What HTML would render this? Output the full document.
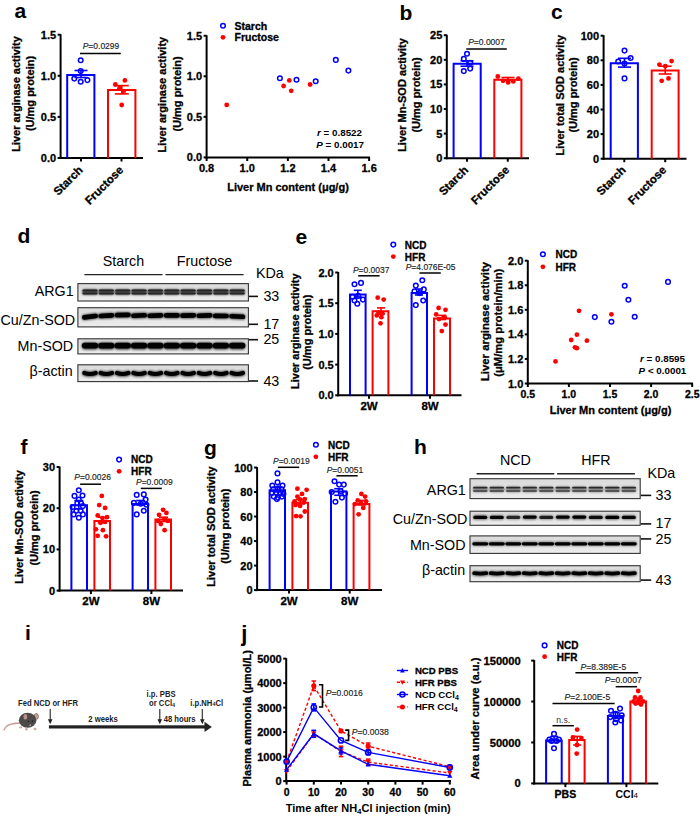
<!DOCTYPE html><html><head><meta charset="utf-8"><style>html,body{margin:0;padding:0;background:#fff;width:700px;height:818px;overflow:hidden;position:relative}</style></head><body><svg width="700" height="818" viewBox="0 0 700 818" style="position:absolute;left:0;top:0">
<g font-family='"Liberation Sans", sans-serif'>
<rect x="0" y="0" width="700" height="818" fill="#fff"/>
<text x="14.50" y="18.10" font-size="21" font-weight="bold" fill="#000">a</text>
<text x="399.50" y="19.50" font-size="21" font-weight="bold" fill="#000">b</text>
<text x="551.00" y="19.00" font-size="21" font-weight="bold" fill="#000">c</text>
<text x="17.40" y="242.70" font-size="21" font-weight="bold" fill="#000">d</text>
<text x="295.50" y="243.50" font-size="21" font-weight="bold" fill="#000">e</text>
<text x="20.50" y="454.00" font-size="21" font-weight="bold" fill="#000">f</text>
<text x="204.00" y="454.50" font-size="21" font-weight="bold" fill="#000">g</text>
<text x="414.00" y="454.00" font-size="21" font-weight="bold" fill="#000">h</text>
<text x="25.00" y="639.80" font-size="21" font-weight="bold" fill="#000">i</text>
<text x="241.30" y="640.50" font-size="22" font-weight="bold" fill="#000">j</text>
<line x1="60.60" y1="34.20" x2="60.60" y2="159.00" stroke="#000" stroke-width="2" />
<line x1="57.60" y1="158.00" x2="60.60" y2="158.00" stroke="#000" stroke-width="2" />
<text x="56.10" y="162.01" font-size="11" font-weight="bold" text-anchor="end" fill="#000" stroke="#000" stroke-width="0.3" >0.0</text>
<line x1="57.60" y1="116.90" x2="60.60" y2="116.90" stroke="#000" stroke-width="2" />
<text x="56.10" y="120.92" font-size="11" font-weight="bold" text-anchor="end" fill="#000" stroke="#000" stroke-width="0.3" >0.5</text>
<line x1="57.60" y1="75.80" x2="60.60" y2="75.80" stroke="#000" stroke-width="2" />
<text x="56.10" y="79.81" font-size="11" font-weight="bold" text-anchor="end" fill="#000" stroke="#000" stroke-width="0.3" >1.0</text>
<line x1="57.60" y1="34.70" x2="60.60" y2="34.70" stroke="#000" stroke-width="2" />
<text x="56.10" y="38.71" font-size="11" font-weight="bold" text-anchor="end" fill="#000" stroke="#000" stroke-width="0.3" >1.5</text>
<line x1="59.60" y1="158.00" x2="143.00" y2="158.00" stroke="#000" stroke-width="2" />
<line x1="81.00" y1="158.00" x2="81.00" y2="161.50" stroke="#000" stroke-width="2" />
<line x1="121.50" y1="158.00" x2="121.50" y2="161.50" stroke="#000" stroke-width="2" />
<path d="M67.20 158.00 V75.00 H94.40 V158.00" fill="none" stroke="#0000ff" stroke-width="2"/>
<path d="M108.00 158.00 V90.00 H135.40 V158.00" fill="none" stroke="#ff0000" stroke-width="2"/>
<line x1="81.00" y1="70.50" x2="81.00" y2="77.50" stroke="#0000ff" stroke-width="1.6" />
<line x1="74.50" y1="70.50" x2="87.50" y2="70.50" stroke="#0000ff" stroke-width="1.6" />
<line x1="74.50" y1="77.50" x2="87.50" y2="77.50" stroke="#0000ff" stroke-width="1.6" />
<line x1="121.80" y1="85.60" x2="121.80" y2="93.90" stroke="#ff0000" stroke-width="1.6" />
<line x1="114.80" y1="85.60" x2="128.80" y2="85.60" stroke="#ff0000" stroke-width="1.6" />
<line x1="114.80" y1="93.90" x2="128.80" y2="93.90" stroke="#ff0000" stroke-width="1.6" />
<circle cx="80.70" cy="60.20" r="2.3" fill="none" stroke="#0000ff" stroke-width="1.5"/>
<circle cx="74.30" cy="78.60" r="2.3" fill="none" stroke="#0000ff" stroke-width="1.5"/>
<circle cx="80.70" cy="81.70" r="2.3" fill="none" stroke="#0000ff" stroke-width="1.5"/>
<circle cx="87.40" cy="80.10" r="2.3" fill="none" stroke="#0000ff" stroke-width="1.5"/>
<circle cx="80.70" cy="71.10" r="2.3" fill="none" stroke="#0000ff" stroke-width="1.5"/>
<circle cx="124.90" cy="80.40" r="2.4" fill="#ff0000"/>
<circle cx="115.30" cy="84.50" r="2.4" fill="#ff0000"/>
<circle cx="121.70" cy="105.00" r="2.4" fill="#ff0000"/>
<circle cx="119.50" cy="88.20" r="2.4" fill="#ff0000"/>
<circle cx="123.50" cy="91.50" r="2.4" fill="#ff0000"/>
<line x1="80.00" y1="53.40" x2="120.80" y2="53.40" stroke="#000" stroke-width="1.5" />
<text x="101.00" y="49.30" font-size="8.5" text-anchor="middle" fill="#222" stroke="#222" stroke-width="0.15"><tspan font-style="italic">P</tspan>=0.0299</text>
<text x="83.50" y="170.80" font-size="11.5" font-weight="bold" text-anchor="end" fill="#000" transform="rotate(-45 83.50 170.80)" stroke="#000" stroke-width="0.3" >Starch</text>
<text x="124.00" y="170.80" font-size="11.5" font-weight="bold" text-anchor="end" fill="#000" transform="rotate(-45 124.00 170.80)" stroke="#000" stroke-width="0.3" >Fructose</text>
<text x="20.00" y="94.00" font-size="11" font-weight="bold" text-anchor="middle" fill="#000" transform="rotate(-90 20.00 94.00)" stroke="#000" stroke-width="0.3" >Liver arginase activity</text>
<text x="34.00" y="93.50" font-size="11" font-weight="bold" text-anchor="middle" fill="#000" transform="rotate(-90 34.00 93.50)" stroke="#000" stroke-width="0.3" >(U/mg protein)</text>
<line x1="206.60" y1="35.25" x2="206.60" y2="158.40" stroke="#000" stroke-width="2" />
<line x1="203.60" y1="157.40" x2="206.60" y2="157.40" stroke="#000" stroke-width="2" />
<text x="202.10" y="161.41" font-size="11" font-weight="bold" text-anchor="end" fill="#000" stroke="#000" stroke-width="0.3" >0.0</text>
<line x1="203.60" y1="116.85" x2="206.60" y2="116.85" stroke="#000" stroke-width="2" />
<text x="202.10" y="120.87" font-size="11" font-weight="bold" text-anchor="end" fill="#000" stroke="#000" stroke-width="0.3" >0.5</text>
<line x1="203.60" y1="76.30" x2="206.60" y2="76.30" stroke="#000" stroke-width="2" />
<text x="202.10" y="80.32" font-size="11" font-weight="bold" text-anchor="end" fill="#000" stroke="#000" stroke-width="0.3" >1.0</text>
<line x1="203.60" y1="35.75" x2="206.60" y2="35.75" stroke="#000" stroke-width="2" />
<text x="202.10" y="39.77" font-size="11" font-weight="bold" text-anchor="end" fill="#000" stroke="#000" stroke-width="0.3" >1.5</text>
<line x1="205.60" y1="157.40" x2="370.00" y2="157.40" stroke="#000" stroke-width="2" />
<line x1="206.60" y1="157.40" x2="206.60" y2="161.00" stroke="#000" stroke-width="2" />
<text x="206.60" y="172.30" font-size="11" font-weight="bold" text-anchor="middle" fill="#000" stroke="#000" stroke-width="0.3" >0.8</text>
<line x1="247.23" y1="157.40" x2="247.23" y2="161.00" stroke="#000" stroke-width="2" />
<text x="247.23" y="172.30" font-size="11" font-weight="bold" text-anchor="middle" fill="#000" stroke="#000" stroke-width="0.3" >1.0</text>
<line x1="287.86" y1="157.40" x2="287.86" y2="161.00" stroke="#000" stroke-width="2" />
<text x="287.86" y="172.30" font-size="11" font-weight="bold" text-anchor="middle" fill="#000" stroke="#000" stroke-width="0.3" >1.2</text>
<line x1="328.49" y1="157.40" x2="328.49" y2="161.00" stroke="#000" stroke-width="2" />
<text x="328.49" y="172.30" font-size="11" font-weight="bold" text-anchor="middle" fill="#000" stroke="#000" stroke-width="0.3" >1.4</text>
<line x1="369.12" y1="157.40" x2="369.12" y2="161.00" stroke="#000" stroke-width="2" />
<text x="369.12" y="172.30" font-size="11" font-weight="bold" text-anchor="middle" fill="#000" stroke="#000" stroke-width="0.3" >1.6</text>
<circle cx="279.90" cy="78.20" r="2.3" fill="none" stroke="#0000ff" stroke-width="1.5"/>
<circle cx="296.50" cy="79.70" r="2.3" fill="none" stroke="#0000ff" stroke-width="1.5"/>
<circle cx="315.70" cy="81.30" r="2.3" fill="none" stroke="#0000ff" stroke-width="1.5"/>
<circle cx="335.80" cy="59.90" r="2.3" fill="none" stroke="#0000ff" stroke-width="1.5"/>
<circle cx="348.40" cy="70.60" r="2.3" fill="none" stroke="#0000ff" stroke-width="1.5"/>
<circle cx="226.70" cy="104.90" r="2.4" fill="#ff0000"/>
<circle cx="283.60" cy="86.00" r="2.4" fill="#ff0000"/>
<circle cx="289.30" cy="80.40" r="2.4" fill="#ff0000"/>
<circle cx="291.20" cy="90.80" r="2.4" fill="#ff0000"/>
<circle cx="310.10" cy="84.50" r="2.4" fill="#ff0000"/>
<circle cx="223.00" cy="25.70" r="2.3" fill="none" stroke="#0000ff" stroke-width="1.5"/>
<text x="234.50" y="29.50" font-size="10.5" font-weight="bold" text-anchor="start" fill="#000" stroke="#000" stroke-width="0.3" >Starch</text>
<circle cx="223.00" cy="37.30" r="2.4" fill="#ff0000"/>
<text x="234.50" y="41.20" font-size="10.5" font-weight="bold" text-anchor="start" fill="#000" stroke="#000" stroke-width="0.3" >Fructose</text>
<text x="362" y="136" font-size="9.8" font-weight="bold" text-anchor="end"><tspan font-style="italic">r</tspan> = 0.8522</text>
<text x="364" y="148" font-size="9.8" font-weight="bold" text-anchor="end"><tspan font-style="italic">P</tspan> = 0.0017</text>
<text x="288.00" y="191.00" font-size="11" font-weight="bold" text-anchor="middle" fill="#000" stroke="#000" stroke-width="0.3" >Liver Mn content (μg/g)</text>
<text x="165.80" y="94.60" font-size="11" font-weight="bold" text-anchor="middle" fill="#000" transform="rotate(-90 165.80 94.60)" stroke="#000" stroke-width="0.3" >Liver arginase activity</text>
<text x="180.50" y="94.00" font-size="11" font-weight="bold" text-anchor="middle" fill="#000" transform="rotate(-90 180.50 94.00)" stroke="#000" stroke-width="0.3" >(U/mg protein)</text>
<line x1="446.80" y1="34.70" x2="446.80" y2="159.20" stroke="#000" stroke-width="2" />
<line x1="443.80" y1="158.20" x2="446.80" y2="158.20" stroke="#000" stroke-width="2" />
<text x="442.30" y="162.21" font-size="11" font-weight="bold" text-anchor="end" fill="#000" stroke="#000" stroke-width="0.3" >0</text>
<line x1="443.80" y1="133.60" x2="446.80" y2="133.60" stroke="#000" stroke-width="2" />
<text x="442.30" y="137.61" font-size="11" font-weight="bold" text-anchor="end" fill="#000" stroke="#000" stroke-width="0.3" >5</text>
<line x1="443.80" y1="109.00" x2="446.80" y2="109.00" stroke="#000" stroke-width="2" />
<text x="442.30" y="113.01" font-size="11" font-weight="bold" text-anchor="end" fill="#000" stroke="#000" stroke-width="0.3" >10</text>
<line x1="443.80" y1="84.40" x2="446.80" y2="84.40" stroke="#000" stroke-width="2" />
<text x="442.30" y="88.41" font-size="11" font-weight="bold" text-anchor="end" fill="#000" stroke="#000" stroke-width="0.3" >15</text>
<line x1="443.80" y1="59.80" x2="446.80" y2="59.80" stroke="#000" stroke-width="2" />
<text x="442.30" y="63.81" font-size="11" font-weight="bold" text-anchor="end" fill="#000" stroke="#000" stroke-width="0.3" >20</text>
<line x1="443.80" y1="35.20" x2="446.80" y2="35.20" stroke="#000" stroke-width="2" />
<text x="442.30" y="39.21" font-size="11" font-weight="bold" text-anchor="end" fill="#000" stroke="#000" stroke-width="0.3" >25</text>
<line x1="445.80" y1="158.20" x2="529.00" y2="158.20" stroke="#000" stroke-width="2" />
<line x1="467.00" y1="158.20" x2="467.00" y2="161.70" stroke="#000" stroke-width="2" />
<line x1="507.80" y1="158.20" x2="507.80" y2="161.70" stroke="#000" stroke-width="2" />
<path d="M453.60 158.20 V63.80 H480.70 V158.20" fill="none" stroke="#0000ff" stroke-width="2"/>
<path d="M494.30 158.20 V79.80 H521.40 V158.20" fill="none" stroke="#ff0000" stroke-width="2"/>
<line x1="467.00" y1="60.80" x2="467.00" y2="66.20" stroke="#0000ff" stroke-width="1.6" />
<line x1="460.50" y1="60.80" x2="473.50" y2="60.80" stroke="#0000ff" stroke-width="1.6" />
<line x1="460.50" y1="66.20" x2="473.50" y2="66.20" stroke="#0000ff" stroke-width="1.6" />
<line x1="508.00" y1="77.50" x2="508.00" y2="80.50" stroke="#ff0000" stroke-width="1.6" />
<line x1="501.50" y1="77.50" x2="514.50" y2="77.50" stroke="#ff0000" stroke-width="1.6" />
<line x1="501.50" y1="80.50" x2="514.50" y2="80.50" stroke="#ff0000" stroke-width="1.6" />
<circle cx="467.00" cy="53.80" r="2.3" fill="none" stroke="#0000ff" stroke-width="1.5"/>
<circle cx="463.80" cy="58.90" r="2.3" fill="none" stroke="#0000ff" stroke-width="1.5"/>
<circle cx="470.20" cy="62.80" r="2.3" fill="none" stroke="#0000ff" stroke-width="1.5"/>
<circle cx="463.80" cy="71.10" r="2.3" fill="none" stroke="#0000ff" stroke-width="1.5"/>
<circle cx="470.20" cy="68.60" r="2.3" fill="none" stroke="#0000ff" stroke-width="1.5"/>
<circle cx="497.80" cy="76.50" r="2.4" fill="#ff0000"/>
<circle cx="503.00" cy="80.80" r="2.4" fill="#ff0000"/>
<circle cx="508.10" cy="82.40" r="2.4" fill="#ff0000"/>
<circle cx="513.30" cy="81.40" r="2.4" fill="#ff0000"/>
<circle cx="518.40" cy="78.60" r="2.4" fill="#ff0000"/>
<line x1="466.30" y1="49.00" x2="506.80" y2="49.00" stroke="#000" stroke-width="1.5" />
<text x="486.50" y="45.40" font-size="8.5" text-anchor="middle" fill="#222" stroke="#222" stroke-width="0.15"><tspan font-style="italic">P</tspan>=0.0007</text>
<text x="469.00" y="170.80" font-size="11.5" font-weight="bold" text-anchor="end" fill="#000" transform="rotate(-45 469.00 170.80)" stroke="#000" stroke-width="0.3" >Starch</text>
<text x="510.00" y="170.80" font-size="11.5" font-weight="bold" text-anchor="end" fill="#000" transform="rotate(-45 510.00 170.80)" stroke="#000" stroke-width="0.3" >Fructose</text>
<text x="406.00" y="95.00" font-size="11" font-weight="bold" text-anchor="middle" fill="#000" transform="rotate(-90 406.00 95.00)" stroke="#000" stroke-width="0.3" >Liver Mn-SOD activity</text>
<text x="420.00" y="95.00" font-size="11" font-weight="bold" text-anchor="middle" fill="#000" transform="rotate(-90 420.00 95.00)" stroke="#000" stroke-width="0.3" >(U/mg protein)</text>
<line x1="603.60" y1="35.20" x2="603.60" y2="159.70" stroke="#000" stroke-width="2" />
<line x1="600.60" y1="158.70" x2="603.60" y2="158.70" stroke="#000" stroke-width="2" />
<text x="599.10" y="162.71" font-size="11" font-weight="bold" text-anchor="end" fill="#000" stroke="#000" stroke-width="0.3" >0</text>
<line x1="600.60" y1="134.10" x2="603.60" y2="134.10" stroke="#000" stroke-width="2" />
<text x="599.10" y="138.11" font-size="11" font-weight="bold" text-anchor="end" fill="#000" stroke="#000" stroke-width="0.3" >20</text>
<line x1="600.60" y1="109.50" x2="603.60" y2="109.50" stroke="#000" stroke-width="2" />
<text x="599.10" y="113.51" font-size="11" font-weight="bold" text-anchor="end" fill="#000" stroke="#000" stroke-width="0.3" >40</text>
<line x1="600.60" y1="84.90" x2="603.60" y2="84.90" stroke="#000" stroke-width="2" />
<text x="599.10" y="88.91" font-size="11" font-weight="bold" text-anchor="end" fill="#000" stroke="#000" stroke-width="0.3" >60</text>
<line x1="600.60" y1="60.30" x2="603.60" y2="60.30" stroke="#000" stroke-width="2" />
<text x="599.10" y="64.31" font-size="11" font-weight="bold" text-anchor="end" fill="#000" stroke="#000" stroke-width="0.3" >80</text>
<line x1="600.60" y1="35.70" x2="603.60" y2="35.70" stroke="#000" stroke-width="2" />
<text x="599.10" y="39.71" font-size="11" font-weight="bold" text-anchor="end" fill="#000" stroke="#000" stroke-width="0.3" >100</text>
<line x1="602.60" y1="158.70" x2="686.50" y2="158.70" stroke="#000" stroke-width="2" />
<line x1="624.30" y1="158.70" x2="624.30" y2="162.20" stroke="#000" stroke-width="2" />
<line x1="665.20" y1="158.70" x2="665.20" y2="162.20" stroke="#000" stroke-width="2" />
<path d="M610.70 158.70 V63.20 H637.90 V158.70" fill="none" stroke="#0000ff" stroke-width="2"/>
<path d="M651.70 158.70 V70.50 H678.60 V158.70" fill="none" stroke="#ff0000" stroke-width="2"/>
<line x1="624.50" y1="58.30" x2="624.50" y2="67.10" stroke="#0000ff" stroke-width="1.6" />
<line x1="618.00" y1="58.30" x2="631.00" y2="58.30" stroke="#0000ff" stroke-width="1.6" />
<line x1="618.00" y1="67.10" x2="631.00" y2="67.10" stroke="#0000ff" stroke-width="1.6" />
<line x1="665.20" y1="66.20" x2="665.20" y2="74.00" stroke="#ff0000" stroke-width="1.6" />
<line x1="658.70" y1="66.20" x2="671.70" y2="66.20" stroke="#ff0000" stroke-width="1.6" />
<line x1="658.70" y1="74.00" x2="671.70" y2="74.00" stroke="#ff0000" stroke-width="1.6" />
<circle cx="624.50" cy="50.60" r="2.3" fill="none" stroke="#0000ff" stroke-width="1.5"/>
<circle cx="630.60" cy="58.00" r="2.3" fill="none" stroke="#0000ff" stroke-width="1.5"/>
<circle cx="618.20" cy="61.50" r="2.3" fill="none" stroke="#0000ff" stroke-width="1.5"/>
<circle cx="624.50" cy="63.50" r="2.3" fill="none" stroke="#0000ff" stroke-width="1.5"/>
<circle cx="624.50" cy="78.40" r="2.3" fill="none" stroke="#0000ff" stroke-width="1.5"/>
<circle cx="671.60" cy="61.10" r="2.4" fill="#ff0000"/>
<circle cx="659.40" cy="64.60" r="2.4" fill="#ff0000"/>
<circle cx="665.30" cy="66.20" r="2.4" fill="#ff0000"/>
<circle cx="668.50" cy="78.40" r="2.4" fill="#ff0000"/>
<circle cx="661.70" cy="80.80" r="2.4" fill="#ff0000"/>
<text x="626.60" y="170.80" font-size="11.5" font-weight="bold" text-anchor="end" fill="#000" transform="rotate(-45 626.60 170.80)" stroke="#000" stroke-width="0.3" >Starch</text>
<text x="667.10" y="170.80" font-size="11.5" font-weight="bold" text-anchor="end" fill="#000" transform="rotate(-45 667.10 170.80)" stroke="#000" stroke-width="0.3" >Fructose</text>
<text x="563.70" y="95.20" font-size="11" font-weight="bold" text-anchor="middle" fill="#000" transform="rotate(-90 563.70 95.20)" stroke="#000" stroke-width="0.3" >Liver total SOD activity</text>
<text x="576.70" y="95.00" font-size="11" font-weight="bold" text-anchor="middle" fill="#000" transform="rotate(-90 576.70 95.00)" stroke="#000" stroke-width="0.3" >(U/mg protein)</text>
<defs><filter id="bl" filterUnits="userSpaceOnUse" x="0" y="0" width="700" height="818"><feGaussianBlur stdDeviation="0.9"/></filter><filter id="bl2" filterUnits="userSpaceOnUse" x="0" y="0" width="700" height="818"><feGaussianBlur stdDeviation="0.75"/></filter><linearGradient id="gbox" x1="0" y1="0" x2="0" y2="1"><stop offset="0" stop-color="#dadada"/><stop offset="1" stop-color="#ededed"/></linearGradient></defs>
<text x="123.50" y="265.80" font-size="14.3" font-weight="normal" text-anchor="middle" fill="#000" >Starch</text>
<text x="204.50" y="265.80" font-size="14.3" font-weight="normal" text-anchor="middle" fill="#000" >Fructose</text>
<line x1="84.40" y1="274.60" x2="162.50" y2="274.60" stroke="#222" stroke-width="1.4" />
<line x1="165.50" y1="274.60" x2="243.60" y2="274.60" stroke="#222" stroke-width="1.4" />
<text x="256.00" y="277.60" font-size="14.3" font-weight="normal" text-anchor="start" fill="#000" >KDa</text>
<rect x="77.90" y="283.60" width="170.50" height="17.40" fill="url(#gbox)" stroke="#333" stroke-width="1.1"/>
<g filter="url(#bl)"><path d="M85.10 292.00 Q90.00 292.00 94.90 292.00" stroke="#555" stroke-opacity="1" stroke-width="6.2" stroke-linecap="round" fill="none"/><path d="M101.46 292.00 Q106.36 292.00 111.26 292.00" stroke="#555" stroke-opacity="1" stroke-width="6.2" stroke-linecap="round" fill="none"/><path d="M117.82 292.00 Q122.72 292.00 127.62 292.00" stroke="#555" stroke-opacity="1" stroke-width="6.2" stroke-linecap="round" fill="none"/><path d="M134.18 292.00 Q139.08 292.00 143.98 292.00" stroke="#555" stroke-opacity="1" stroke-width="6.2" stroke-linecap="round" fill="none"/><path d="M150.54 292.00 Q155.44 292.00 160.34 292.00" stroke="#555" stroke-opacity="1" stroke-width="6.2" stroke-linecap="round" fill="none"/><path d="M166.90 292.00 Q171.80 292.00 176.70 292.00" stroke="#555" stroke-opacity="1" stroke-width="6.2" stroke-linecap="round" fill="none"/><path d="M183.26 292.00 Q188.16 292.00 193.06 292.00" stroke="#555" stroke-opacity="1" stroke-width="6.2" stroke-linecap="round" fill="none"/><path d="M199.62 292.00 Q204.52 292.00 209.42 292.00" stroke="#555" stroke-opacity="1" stroke-width="6.2" stroke-linecap="round" fill="none"/><path d="M215.98 292.00 Q220.88 292.00 225.78 292.00" stroke="#555" stroke-opacity="1" stroke-width="6.2" stroke-linecap="round" fill="none"/><path d="M232.34 292.00 Q237.24 292.00 242.14 292.00" stroke="#555" stroke-opacity="1" stroke-width="6.2" stroke-linecap="round" fill="none"/></g>
<g filter="url(#bl2)"><path d="M83.40 290.50 Q90.00 290.50 96.60 290.50" stroke="#222" stroke-opacity="1" stroke-width="2.0" stroke-linecap="round" fill="none"/><path d="M99.76 290.50 Q106.36 290.50 112.96 290.50" stroke="#222" stroke-opacity="1" stroke-width="2.0" stroke-linecap="round" fill="none"/><path d="M116.12 290.50 Q122.72 290.50 129.32 290.50" stroke="#222" stroke-opacity="1" stroke-width="2.0" stroke-linecap="round" fill="none"/><path d="M132.48 290.50 Q139.08 290.50 145.68 290.50" stroke="#222" stroke-opacity="1" stroke-width="2.0" stroke-linecap="round" fill="none"/><path d="M148.84 290.50 Q155.44 290.50 162.04 290.50" stroke="#222" stroke-opacity="1" stroke-width="2.0" stroke-linecap="round" fill="none"/><path d="M165.20 290.50 Q171.80 290.50 178.40 290.50" stroke="#222" stroke-opacity="1" stroke-width="2.0" stroke-linecap="round" fill="none"/><path d="M181.56 290.50 Q188.16 290.50 194.76 290.50" stroke="#222" stroke-opacity="1" stroke-width="2.0" stroke-linecap="round" fill="none"/><path d="M197.92 290.50 Q204.52 290.50 211.12 290.50" stroke="#222" stroke-opacity="1" stroke-width="2.0" stroke-linecap="round" fill="none"/><path d="M214.28 290.50 Q220.88 290.50 227.48 290.50" stroke="#222" stroke-opacity="1" stroke-width="2.0" stroke-linecap="round" fill="none"/><path d="M230.64 290.50 Q237.24 290.50 243.84 290.50" stroke="#222" stroke-opacity="1" stroke-width="2.0" stroke-linecap="round" fill="none"/></g>
<g filter="url(#bl2)"><path d="M83.40 293.60 Q90.00 293.60 96.60 293.60" stroke="#262626" stroke-opacity="1" stroke-width="2.0" stroke-linecap="round" fill="none"/><path d="M99.76 293.60 Q106.36 293.60 112.96 293.60" stroke="#262626" stroke-opacity="1" stroke-width="2.0" stroke-linecap="round" fill="none"/><path d="M116.12 293.60 Q122.72 293.60 129.32 293.60" stroke="#262626" stroke-opacity="1" stroke-width="2.0" stroke-linecap="round" fill="none"/><path d="M132.48 293.60 Q139.08 293.60 145.68 293.60" stroke="#262626" stroke-opacity="1" stroke-width="2.0" stroke-linecap="round" fill="none"/><path d="M148.84 293.60 Q155.44 293.60 162.04 293.60" stroke="#262626" stroke-opacity="1" stroke-width="2.0" stroke-linecap="round" fill="none"/><path d="M165.20 293.60 Q171.80 293.60 178.40 293.60" stroke="#262626" stroke-opacity="1" stroke-width="2.0" stroke-linecap="round" fill="none"/><path d="M181.56 293.60 Q188.16 293.60 194.76 293.60" stroke="#262626" stroke-opacity="1" stroke-width="2.0" stroke-linecap="round" fill="none"/><path d="M197.92 293.60 Q204.52 293.60 211.12 293.60" stroke="#262626" stroke-opacity="1" stroke-width="2.0" stroke-linecap="round" fill="none"/><path d="M214.28 293.60 Q220.88 293.60 227.48 293.60" stroke="#262626" stroke-opacity="1" stroke-width="2.0" stroke-linecap="round" fill="none"/><path d="M230.64 293.60 Q237.24 293.60 243.84 293.60" stroke="#262626" stroke-opacity="1" stroke-width="2.0" stroke-linecap="round" fill="none"/></g>
<rect x="77.90" y="307.70" width="170.50" height="19.20" fill="url(#gbox)" stroke="#333" stroke-width="1.1"/>
<g filter="url(#bl)"><path d="M84.70 317.40 Q90.00 316.70 95.30 316.00" stroke="#444" stroke-opacity="1" stroke-width="6.0" stroke-linecap="round" fill="none"/><path d="M101.06 316.00 Q106.36 315.70 111.66 315.40" stroke="#444" stroke-opacity="1" stroke-width="6.0" stroke-linecap="round" fill="none"/><path d="M117.42 315.10 Q122.72 315.00 128.02 314.90" stroke="#444" stroke-opacity="1" stroke-width="6.0" stroke-linecap="round" fill="none"/><path d="M133.78 315.70 Q139.08 315.50 144.38 315.30" stroke="#444" stroke-opacity="1" stroke-width="6.0" stroke-linecap="round" fill="none"/><path d="M150.14 315.70 Q155.44 315.55 160.74 315.40" stroke="#444" stroke-opacity="1" stroke-width="6.0" stroke-linecap="round" fill="none"/><path d="M166.50 315.40 Q171.80 315.40 177.10 315.40" stroke="#444" stroke-opacity="1" stroke-width="6.0" stroke-linecap="round" fill="none"/><path d="M182.86 315.60 Q188.16 315.50 193.46 315.40" stroke="#444" stroke-opacity="1" stroke-width="6.0" stroke-linecap="round" fill="none"/><path d="M199.22 315.70 Q204.52 315.55 209.82 315.40" stroke="#444" stroke-opacity="1" stroke-width="6.0" stroke-linecap="round" fill="none"/><path d="M215.58 315.90 Q220.88 315.95 226.18 316.00" stroke="#444" stroke-opacity="1" stroke-width="6.0" stroke-linecap="round" fill="none"/><path d="M231.94 316.20 Q237.24 316.50 242.54 316.80" stroke="#444" stroke-opacity="1" stroke-width="6.0" stroke-linecap="round" fill="none"/></g>
<g filter="url(#bl2)"><path d="M84.30 317.40 Q90.00 316.70 95.70 316.00" stroke="#000" stroke-opacity="1" stroke-width="4.6" stroke-linecap="round" fill="none"/><path d="M100.66 316.00 Q106.36 315.70 112.06 315.40" stroke="#000" stroke-opacity="1" stroke-width="4.6" stroke-linecap="round" fill="none"/><path d="M117.02 315.10 Q122.72 315.00 128.42 314.90" stroke="#000" stroke-opacity="1" stroke-width="4.6" stroke-linecap="round" fill="none"/><path d="M133.38 315.70 Q139.08 315.50 144.78 315.30" stroke="#000" stroke-opacity="1" stroke-width="4.6" stroke-linecap="round" fill="none"/><path d="M149.74 315.70 Q155.44 315.55 161.14 315.40" stroke="#000" stroke-opacity="1" stroke-width="4.6" stroke-linecap="round" fill="none"/><path d="M166.10 315.40 Q171.80 315.40 177.50 315.40" stroke="#000" stroke-opacity="1" stroke-width="4.6" stroke-linecap="round" fill="none"/><path d="M182.46 315.60 Q188.16 315.50 193.86 315.40" stroke="#000" stroke-opacity="1" stroke-width="4.6" stroke-linecap="round" fill="none"/><path d="M198.82 315.70 Q204.52 315.55 210.22 315.40" stroke="#000" stroke-opacity="1" stroke-width="4.6" stroke-linecap="round" fill="none"/><path d="M215.18 315.90 Q220.88 315.95 226.58 316.00" stroke="#000" stroke-opacity="1" stroke-width="4.6" stroke-linecap="round" fill="none"/><path d="M231.54 316.20 Q237.24 316.50 242.94 316.80" stroke="#000" stroke-opacity="1" stroke-width="4.6" stroke-linecap="round" fill="none"/></g>
<rect x="77.90" y="338.80" width="170.50" height="15.10" fill="url(#gbox)" stroke="#333" stroke-width="1.1"/>
<g filter="url(#bl)"><path d="M85.30 346.00 Q90.00 346.00 94.70 346.00" stroke="#444" stroke-opacity="1" stroke-width="7.4" stroke-linecap="round" fill="none"/><path d="M101.66 346.00 Q106.36 346.00 111.06 346.00" stroke="#444" stroke-opacity="1" stroke-width="7.4" stroke-linecap="round" fill="none"/><path d="M118.02 346.00 Q122.72 346.00 127.42 346.00" stroke="#444" stroke-opacity="1" stroke-width="7.4" stroke-linecap="round" fill="none"/><path d="M134.38 346.00 Q139.08 346.00 143.78 346.00" stroke="#444" stroke-opacity="1" stroke-width="7.4" stroke-linecap="round" fill="none"/><path d="M150.74 346.00 Q155.44 346.00 160.14 346.00" stroke="#444" stroke-opacity="1" stroke-width="7.4" stroke-linecap="round" fill="none"/><path d="M167.10 346.00 Q171.80 346.00 176.50 346.00" stroke="#444" stroke-opacity="1" stroke-width="7.4" stroke-linecap="round" fill="none"/><path d="M183.46 346.00 Q188.16 346.00 192.86 346.00" stroke="#444" stroke-opacity="1" stroke-width="7.4" stroke-linecap="round" fill="none"/><path d="M199.82 346.00 Q204.52 346.00 209.22 346.00" stroke="#444" stroke-opacity="1" stroke-width="7.4" stroke-linecap="round" fill="none"/><path d="M216.18 346.00 Q220.88 346.00 225.58 346.00" stroke="#444" stroke-opacity="1" stroke-width="7.4" stroke-linecap="round" fill="none"/><path d="M232.54 346.00 Q237.24 346.00 241.94 346.00" stroke="#444" stroke-opacity="1" stroke-width="7.4" stroke-linecap="round" fill="none"/></g>
<g filter="url(#bl2)"><path d="M84.70 345.60 Q90.00 345.60 95.30 345.60" stroke="#000" stroke-opacity="1" stroke-width="5.8" stroke-linecap="round" fill="none"/><path d="M101.06 345.60 Q106.36 345.60 111.66 345.60" stroke="#000" stroke-opacity="1" stroke-width="5.8" stroke-linecap="round" fill="none"/><path d="M117.42 345.60 Q122.72 345.60 128.02 345.60" stroke="#000" stroke-opacity="1" stroke-width="5.8" stroke-linecap="round" fill="none"/><path d="M133.78 345.60 Q139.08 345.60 144.38 345.60" stroke="#000" stroke-opacity="1" stroke-width="5.8" stroke-linecap="round" fill="none"/><path d="M150.14 345.60 Q155.44 345.60 160.74 345.60" stroke="#000" stroke-opacity="1" stroke-width="5.8" stroke-linecap="round" fill="none"/><path d="M166.50 345.60 Q171.80 345.60 177.10 345.60" stroke="#000" stroke-opacity="1" stroke-width="5.8" stroke-linecap="round" fill="none"/><path d="M182.86 345.60 Q188.16 345.60 193.46 345.60" stroke="#000" stroke-opacity="1" stroke-width="5.8" stroke-linecap="round" fill="none"/><path d="M199.22 345.60 Q204.52 345.60 209.82 345.60" stroke="#000" stroke-opacity="1" stroke-width="5.8" stroke-linecap="round" fill="none"/><path d="M215.58 345.60 Q220.88 345.60 226.18 345.60" stroke="#000" stroke-opacity="1" stroke-width="5.8" stroke-linecap="round" fill="none"/><path d="M231.94 345.60 Q237.24 345.60 242.54 345.60" stroke="#000" stroke-opacity="1" stroke-width="5.8" stroke-linecap="round" fill="none"/></g>
<rect x="77.90" y="364.80" width="170.50" height="16.80" fill="url(#gbox)" stroke="#333" stroke-width="1.1"/>
<g filter="url(#bl)"><path d="M84.90 373.20 Q90.00 375.20 95.10 373.20" stroke="#555" stroke-opacity="1" stroke-width="5.8" stroke-linecap="round" fill="none"/><path d="M101.26 373.20 Q106.36 375.20 111.46 373.20" stroke="#555" stroke-opacity="1" stroke-width="5.8" stroke-linecap="round" fill="none"/><path d="M117.62 373.20 Q122.72 375.20 127.82 373.20" stroke="#555" stroke-opacity="1" stroke-width="5.8" stroke-linecap="round" fill="none"/><path d="M133.98 373.20 Q139.08 375.20 144.18 373.20" stroke="#555" stroke-opacity="1" stroke-width="5.8" stroke-linecap="round" fill="none"/><path d="M150.34 373.20 Q155.44 375.20 160.54 373.20" stroke="#555" stroke-opacity="1" stroke-width="5.8" stroke-linecap="round" fill="none"/><path d="M166.70 373.20 Q171.80 375.20 176.90 373.20" stroke="#555" stroke-opacity="1" stroke-width="5.8" stroke-linecap="round" fill="none"/><path d="M183.06 373.20 Q188.16 375.20 193.26 373.20" stroke="#555" stroke-opacity="1" stroke-width="5.8" stroke-linecap="round" fill="none"/><path d="M199.42 373.20 Q204.52 375.20 209.62 373.20" stroke="#555" stroke-opacity="1" stroke-width="5.8" stroke-linecap="round" fill="none"/><path d="M215.78 373.20 Q220.88 375.20 225.98 373.20" stroke="#555" stroke-opacity="1" stroke-width="5.8" stroke-linecap="round" fill="none"/><path d="M232.14 373.20 Q237.24 375.20 242.34 373.20" stroke="#555" stroke-opacity="1" stroke-width="5.8" stroke-linecap="round" fill="none"/></g>
<g filter="url(#bl2)"><path d="M84.30 373.00 Q90.00 375.00 95.70 373.00" stroke="#000" stroke-opacity="1" stroke-width="4.2" stroke-linecap="round" fill="none"/><path d="M100.66 373.00 Q106.36 375.00 112.06 373.00" stroke="#000" stroke-opacity="1" stroke-width="4.2" stroke-linecap="round" fill="none"/><path d="M117.02 373.00 Q122.72 375.00 128.42 373.00" stroke="#000" stroke-opacity="1" stroke-width="4.2" stroke-linecap="round" fill="none"/><path d="M133.38 373.00 Q139.08 375.00 144.78 373.00" stroke="#000" stroke-opacity="1" stroke-width="4.2" stroke-linecap="round" fill="none"/><path d="M149.74 373.00 Q155.44 375.00 161.14 373.00" stroke="#000" stroke-opacity="1" stroke-width="4.2" stroke-linecap="round" fill="none"/><path d="M166.10 373.00 Q171.80 375.00 177.50 373.00" stroke="#000" stroke-opacity="1" stroke-width="4.2" stroke-linecap="round" fill="none"/><path d="M182.46 373.00 Q188.16 375.00 193.86 373.00" stroke="#000" stroke-opacity="1" stroke-width="4.2" stroke-linecap="round" fill="none"/><path d="M198.82 373.00 Q204.52 375.00 210.22 373.00" stroke="#000" stroke-opacity="1" stroke-width="4.2" stroke-linecap="round" fill="none"/><path d="M215.18 373.00 Q220.88 375.00 226.58 373.00" stroke="#000" stroke-opacity="1" stroke-width="4.2" stroke-linecap="round" fill="none"/><path d="M231.54 373.00 Q237.24 375.00 242.94 373.00" stroke="#000" stroke-opacity="1" stroke-width="4.2" stroke-linecap="round" fill="none"/></g>
<text x="73.70" y="295.50" font-size="14.3" font-weight="normal" text-anchor="end" fill="#000" >ARG1</text>
<text x="75.20" y="324.50" font-size="14.3" font-weight="normal" text-anchor="end" fill="#000" >Cu/Zn-SOD</text>
<text x="73.20" y="351.10" font-size="14.3" font-weight="normal" text-anchor="end" fill="#000" >Mn-SOD</text>
<text x="72.70" y="376.10" font-size="14.3" font-weight="normal" text-anchor="end" fill="#000" >β-actin</text>
<line x1="249.00" y1="296.40" x2="258.00" y2="296.40" stroke="#111" stroke-width="1.6" />
<text x="263.40" y="301.00" font-size="14.3" font-weight="normal" text-anchor="start" fill="#000" >33</text>
<line x1="249.00" y1="324.30" x2="258.00" y2="324.30" stroke="#111" stroke-width="1.6" />
<text x="263.40" y="328.50" font-size="14.3" font-weight="normal" text-anchor="start" fill="#000" >17</text>
<line x1="249.00" y1="339.70" x2="258.00" y2="339.70" stroke="#111" stroke-width="1.6" />
<text x="263.40" y="344.00" font-size="14.3" font-weight="normal" text-anchor="start" fill="#000" >25</text>
<line x1="249.00" y1="381.00" x2="258.00" y2="381.00" stroke="#111" stroke-width="1.6" />
<text x="263.40" y="385.50" font-size="14.3" font-weight="normal" text-anchor="start" fill="#000" >43</text>
<line x1="338.20" y1="272.00" x2="338.20" y2="396.30" stroke="#000" stroke-width="2" />
<line x1="335.20" y1="395.30" x2="338.20" y2="395.30" stroke="#000" stroke-width="2" />
<text x="333.70" y="399.31" font-size="11" font-weight="bold" text-anchor="end" fill="#000" stroke="#000" stroke-width="0.3" >0.0</text>
<line x1="335.20" y1="364.60" x2="338.20" y2="364.60" stroke="#000" stroke-width="2" />
<text x="333.70" y="368.62" font-size="11" font-weight="bold" text-anchor="end" fill="#000" stroke="#000" stroke-width="0.3" >0.5</text>
<line x1="335.20" y1="333.90" x2="338.20" y2="333.90" stroke="#000" stroke-width="2" />
<text x="333.70" y="337.92" font-size="11" font-weight="bold" text-anchor="end" fill="#000" stroke="#000" stroke-width="0.3" >1.0</text>
<line x1="335.20" y1="303.20" x2="338.20" y2="303.20" stroke="#000" stroke-width="2" />
<text x="333.70" y="307.22" font-size="11" font-weight="bold" text-anchor="end" fill="#000" stroke="#000" stroke-width="0.3" >1.5</text>
<line x1="335.20" y1="272.50" x2="338.20" y2="272.50" stroke="#000" stroke-width="2" />
<text x="333.70" y="276.51" font-size="11" font-weight="bold" text-anchor="end" fill="#000" stroke="#000" stroke-width="0.3" >2.0</text>
<line x1="337.20" y1="395.30" x2="461.50" y2="395.30" stroke="#000" stroke-width="2" />
<line x1="369.00" y1="395.30" x2="369.00" y2="398.80" stroke="#000" stroke-width="2" />
<line x1="430.00" y1="395.30" x2="430.00" y2="398.80" stroke="#000" stroke-width="2" />
<text x="369.00" y="409.50" font-size="11.5" font-weight="bold" text-anchor="middle" fill="#000" stroke="#000" stroke-width="0.3" >2W</text>
<text x="430.00" y="409.50" font-size="11.5" font-weight="bold" text-anchor="middle" fill="#000" stroke="#000" stroke-width="0.3" >8W</text>
<path d="M350.00 395.30 V294.60 H365.60 V395.30" fill="none" stroke="#0000ff" stroke-width="2"/>
<path d="M372.60 395.30 V311.30 H388.40 V395.30" fill="none" stroke="#ff0000" stroke-width="2"/>
<path d="M411.60 395.30 V293.10 H427.00 V395.30" fill="none" stroke="#0000ff" stroke-width="2"/>
<path d="M434.00 395.30 V318.60 H450.00 V395.30" fill="none" stroke="#ff0000" stroke-width="2"/>
<line x1="357.80" y1="290.30" x2="357.80" y2="297.00" stroke="#0000ff" stroke-width="1.6" />
<line x1="353.80" y1="290.30" x2="361.80" y2="290.30" stroke="#0000ff" stroke-width="1.6" />
<line x1="353.80" y1="297.00" x2="361.80" y2="297.00" stroke="#0000ff" stroke-width="1.6" />
<line x1="381.00" y1="307.90" x2="381.00" y2="314.00" stroke="#ff0000" stroke-width="1.6" />
<line x1="377.00" y1="307.90" x2="385.00" y2="307.90" stroke="#ff0000" stroke-width="1.6" />
<line x1="377.00" y1="314.00" x2="385.00" y2="314.00" stroke="#ff0000" stroke-width="1.6" />
<line x1="419.00" y1="289.00" x2="419.00" y2="295.00" stroke="#0000ff" stroke-width="1.6" />
<line x1="415.00" y1="289.00" x2="423.00" y2="289.00" stroke="#0000ff" stroke-width="1.6" />
<line x1="415.00" y1="295.00" x2="423.00" y2="295.00" stroke="#0000ff" stroke-width="1.6" />
<line x1="442.20" y1="315.40" x2="442.20" y2="319.50" stroke="#ff0000" stroke-width="1.6" />
<line x1="438.20" y1="315.40" x2="446.20" y2="315.40" stroke="#ff0000" stroke-width="1.6" />
<line x1="438.20" y1="319.50" x2="446.20" y2="319.50" stroke="#ff0000" stroke-width="1.6" />
<circle cx="354.50" cy="284.30" r="2.3" fill="none" stroke="#0000ff" stroke-width="1.5"/>
<circle cx="361.00" cy="282.90" r="2.3" fill="none" stroke="#0000ff" stroke-width="1.5"/>
<circle cx="352.60" cy="296.80" r="2.3" fill="none" stroke="#0000ff" stroke-width="1.5"/>
<circle cx="358.20" cy="295.90" r="2.3" fill="none" stroke="#0000ff" stroke-width="1.5"/>
<circle cx="362.90" cy="299.60" r="2.3" fill="none" stroke="#0000ff" stroke-width="1.5"/>
<circle cx="354.50" cy="300.50" r="2.3" fill="none" stroke="#0000ff" stroke-width="1.5"/>
<circle cx="357.30" cy="303.70" r="2.3" fill="none" stroke="#0000ff" stroke-width="1.5"/>
<circle cx="422.30" cy="280.30" r="2.3" fill="none" stroke="#0000ff" stroke-width="1.5"/>
<circle cx="415.80" cy="285.60" r="2.3" fill="none" stroke="#0000ff" stroke-width="1.5"/>
<circle cx="423.80" cy="289.40" r="2.3" fill="none" stroke="#0000ff" stroke-width="1.5"/>
<circle cx="414.50" cy="291.20" r="2.3" fill="none" stroke="#0000ff" stroke-width="1.5"/>
<circle cx="419.50" cy="293.10" r="2.3" fill="none" stroke="#0000ff" stroke-width="1.5"/>
<circle cx="423.20" cy="300.50" r="2.3" fill="none" stroke="#0000ff" stroke-width="1.5"/>
<circle cx="415.80" cy="305.10" r="2.3" fill="none" stroke="#0000ff" stroke-width="1.5"/>
<circle cx="377.70" cy="297.70" r="2.4" fill="#ff0000"/>
<circle cx="383.70" cy="299.60" r="2.4" fill="#ff0000"/>
<circle cx="378.60" cy="312.60" r="2.4" fill="#ff0000"/>
<circle cx="382.40" cy="313.50" r="2.4" fill="#ff0000"/>
<circle cx="376.80" cy="315.40" r="2.4" fill="#ff0000"/>
<circle cx="381.40" cy="317.20" r="2.4" fill="#ff0000"/>
<circle cx="380.50" cy="323.30" r="2.4" fill="#ff0000"/>
<circle cx="438.60" cy="307.90" r="2.4" fill="#ff0000"/>
<circle cx="445.50" cy="309.80" r="2.4" fill="#ff0000"/>
<circle cx="436.20" cy="314.40" r="2.4" fill="#ff0000"/>
<circle cx="444.60" cy="317.20" r="2.4" fill="#ff0000"/>
<circle cx="439.00" cy="319.10" r="2.4" fill="#ff0000"/>
<circle cx="445.50" cy="324.60" r="2.4" fill="#ff0000"/>
<circle cx="441.80" cy="331.10" r="2.4" fill="#ff0000"/>
<line x1="358.20" y1="275.80" x2="379.60" y2="275.80" stroke="#000" stroke-width="1.5" />
<text x="371.20" y="272.60" font-size="8.5" text-anchor="middle" fill="#222" stroke="#222" stroke-width="0.15"><tspan font-style="italic">P</tspan>=0.0037</text>
<line x1="419.50" y1="273.00" x2="440.80" y2="273.00" stroke="#000" stroke-width="1.5" />
<text x="430.60" y="269.90" font-size="8.5" text-anchor="middle" fill="#222" stroke="#222" stroke-width="0.15"><tspan font-style="italic">P</tspan>=4.076E-05</text>
<circle cx="393.30" cy="244.60" r="2.3" fill="none" stroke="#0000ff" stroke-width="1.5"/>
<text x="404.80" y="248.70" font-size="10" font-weight="bold" text-anchor="start" fill="#000" stroke="#000" stroke-width="0.3" >NCD</text>
<circle cx="393.30" cy="256.60" r="2.4" fill="#ff0000"/>
<text x="404.80" y="260.70" font-size="10" font-weight="bold" text-anchor="start" fill="#000" stroke="#000" stroke-width="0.3" >HFR</text>
<text x="299.00" y="331.20" font-size="11" font-weight="bold" text-anchor="middle" fill="#000" transform="rotate(-90 299.00 331.20)" stroke="#000" stroke-width="0.3" >Liver arginase activity</text>
<text x="311.50" y="332.20" font-size="11" font-weight="bold" text-anchor="middle" fill="#000" transform="rotate(-90 311.50 332.20)" stroke="#000" stroke-width="0.3" >(U/mg protein)</text>
<line x1="527.80" y1="260.20" x2="527.80" y2="384.50" stroke="#000" stroke-width="2" />
<line x1="524.80" y1="383.50" x2="527.80" y2="383.50" stroke="#000" stroke-width="2" />
<text x="523.30" y="387.51" font-size="11" font-weight="bold" text-anchor="end" fill="#000" stroke="#000" stroke-width="0.3" >1.0</text>
<line x1="524.80" y1="358.94" x2="527.80" y2="358.94" stroke="#000" stroke-width="2" />
<text x="523.30" y="362.95" font-size="11" font-weight="bold" text-anchor="end" fill="#000" stroke="#000" stroke-width="0.3" >1.2</text>
<line x1="524.80" y1="334.38" x2="527.80" y2="334.38" stroke="#000" stroke-width="2" />
<text x="523.30" y="338.39" font-size="11" font-weight="bold" text-anchor="end" fill="#000" stroke="#000" stroke-width="0.3" >1.4</text>
<line x1="524.80" y1="309.82" x2="527.80" y2="309.82" stroke="#000" stroke-width="2" />
<text x="523.30" y="313.83" font-size="11" font-weight="bold" text-anchor="end" fill="#000" stroke="#000" stroke-width="0.3" >1.6</text>
<line x1="524.80" y1="285.26" x2="527.80" y2="285.26" stroke="#000" stroke-width="2" />
<text x="523.30" y="289.27" font-size="11" font-weight="bold" text-anchor="end" fill="#000" stroke="#000" stroke-width="0.3" >1.8</text>
<line x1="524.80" y1="260.70" x2="527.80" y2="260.70" stroke="#000" stroke-width="2" />
<text x="523.30" y="264.71" font-size="11" font-weight="bold" text-anchor="end" fill="#000" stroke="#000" stroke-width="0.3" >2.0</text>
<line x1="526.80" y1="383.50" x2="693.00" y2="383.50" stroke="#000" stroke-width="2" />
<line x1="527.80" y1="383.50" x2="527.80" y2="387.00" stroke="#000" stroke-width="2" />
<text x="527.80" y="397.50" font-size="10.5" font-weight="bold" text-anchor="middle" fill="#000" stroke="#000" stroke-width="0.3" >0.5</text>
<line x1="568.90" y1="383.50" x2="568.90" y2="387.00" stroke="#000" stroke-width="2" />
<text x="568.90" y="397.50" font-size="10.5" font-weight="bold" text-anchor="middle" fill="#000" stroke="#000" stroke-width="0.3" >1.0</text>
<line x1="610.00" y1="383.50" x2="610.00" y2="387.00" stroke="#000" stroke-width="2" />
<text x="610.00" y="397.50" font-size="10.5" font-weight="bold" text-anchor="middle" fill="#000" stroke="#000" stroke-width="0.3" >1.5</text>
<line x1="651.10" y1="383.50" x2="651.10" y2="387.00" stroke="#000" stroke-width="2" />
<text x="651.10" y="397.50" font-size="10.5" font-weight="bold" text-anchor="middle" fill="#000" stroke="#000" stroke-width="0.3" >2.0</text>
<line x1="692.20" y1="383.50" x2="692.20" y2="387.00" stroke="#000" stroke-width="2" />
<text x="692.20" y="397.50" font-size="10.5" font-weight="bold" text-anchor="middle" fill="#000" stroke="#000" stroke-width="0.3" >2.5</text>
<circle cx="594.80" cy="317.10" r="2.3" fill="none" stroke="#0000ff" stroke-width="1.5"/>
<circle cx="611.40" cy="321.80" r="2.3" fill="none" stroke="#0000ff" stroke-width="1.5"/>
<circle cx="624.70" cy="285.70" r="2.3" fill="none" stroke="#0000ff" stroke-width="1.5"/>
<circle cx="628.40" cy="299.80" r="2.3" fill="none" stroke="#0000ff" stroke-width="1.5"/>
<circle cx="634.70" cy="316.80" r="2.3" fill="none" stroke="#0000ff" stroke-width="1.5"/>
<circle cx="668.00" cy="281.90" r="2.3" fill="none" stroke="#0000ff" stroke-width="1.5"/>
<circle cx="555.50" cy="361.40" r="2.4" fill="#ff0000"/>
<circle cx="571.20" cy="340.00" r="2.4" fill="#ff0000"/>
<circle cx="575.00" cy="347.30" r="2.4" fill="#ff0000"/>
<circle cx="576.90" cy="348.20" r="2.4" fill="#ff0000"/>
<circle cx="576.90" cy="334.70" r="2.4" fill="#ff0000"/>
<circle cx="579.00" cy="310.80" r="2.4" fill="#ff0000"/>
<circle cx="586.90" cy="340.70" r="2.4" fill="#ff0000"/>
<circle cx="611.40" cy="314.30" r="2.4" fill="#ff0000"/>
<circle cx="542.90" cy="254.20" r="2.3" fill="none" stroke="#0000ff" stroke-width="1.5"/>
<text x="555.50" y="258.00" font-size="10" font-weight="bold" text-anchor="start" fill="#000" stroke="#000" stroke-width="0.3" >NCD</text>
<circle cx="542.90" cy="266.80" r="2.4" fill="#ff0000"/>
<text x="555.50" y="270.60" font-size="10" font-weight="bold" text-anchor="start" fill="#000" stroke="#000" stroke-width="0.3" >HFR</text>
<text x="685" y="362.4" font-size="9.8" font-weight="bold" text-anchor="end"><tspan font-style="italic">r</tspan> = 0.8595</text>
<text x="686.3" y="374" font-size="9.8" font-weight="bold" text-anchor="end"><tspan font-style="italic">P</tspan> &lt; 0.0001</text>
<text x="610.50" y="414.00" font-size="11" font-weight="bold" text-anchor="middle" fill="#000" stroke="#000" stroke-width="0.3" >Liver Mn content (μg/g)</text>
<text x="488.90" y="321.50" font-size="11.35" font-weight="bold" text-anchor="middle" fill="#000" transform="rotate(-90 488.90 321.50)" stroke="#000" stroke-width="0.3" >Liver arginase activity</text>
<text x="502.00" y="322.80" font-size="11.25" font-weight="bold" text-anchor="middle" fill="#000" transform="rotate(-90 502.00 322.80)" stroke="#000" stroke-width="0.3" >(μM/mg protein/min)</text>
<line x1="59.60" y1="466.50" x2="59.60" y2="591.60" stroke="#000" stroke-width="2" />
<line x1="56.60" y1="590.60" x2="59.60" y2="590.60" stroke="#000" stroke-width="2" />
<text x="55.10" y="594.62" font-size="11" font-weight="bold" text-anchor="end" fill="#000" stroke="#000" stroke-width="0.3" >0</text>
<line x1="56.60" y1="549.40" x2="59.60" y2="549.40" stroke="#000" stroke-width="2" />
<text x="55.10" y="553.41" font-size="11" font-weight="bold" text-anchor="end" fill="#000" stroke="#000" stroke-width="0.3" >10</text>
<line x1="56.60" y1="508.20" x2="59.60" y2="508.20" stroke="#000" stroke-width="2" />
<text x="55.10" y="512.22" font-size="11" font-weight="bold" text-anchor="end" fill="#000" stroke="#000" stroke-width="0.3" >20</text>
<line x1="56.60" y1="467.00" x2="59.60" y2="467.00" stroke="#000" stroke-width="2" />
<text x="55.10" y="471.01" font-size="11" font-weight="bold" text-anchor="end" fill="#000" stroke="#000" stroke-width="0.3" >30</text>
<line x1="58.60" y1="590.60" x2="183.00" y2="590.60" stroke="#000" stroke-width="2" />
<line x1="90.90" y1="590.60" x2="90.90" y2="594.10" stroke="#000" stroke-width="2" />
<line x1="151.40" y1="590.60" x2="151.40" y2="594.10" stroke="#000" stroke-width="2" />
<text x="90.90" y="605.20" font-size="11.5" font-weight="bold" text-anchor="middle" fill="#000" stroke="#000" stroke-width="0.3" >2W</text>
<text x="151.40" y="605.20" font-size="11.5" font-weight="bold" text-anchor="middle" fill="#000" stroke="#000" stroke-width="0.3" >8W</text>
<path d="M71.40 590.60 V505.20 H87.00 V590.60" fill="none" stroke="#0000ff" stroke-width="2"/>
<path d="M94.40 590.60 V521.00 H110.00 V590.60" fill="none" stroke="#ff0000" stroke-width="2"/>
<path d="M132.60 590.60 V503.90 H148.00 V590.60" fill="none" stroke="#0000ff" stroke-width="2"/>
<path d="M155.40 590.60 V519.50 H171.00 V590.60" fill="none" stroke="#ff0000" stroke-width="2"/>
<line x1="78.80" y1="500.50" x2="78.80" y2="508.90" stroke="#0000ff" stroke-width="1.6" />
<line x1="74.30" y1="500.50" x2="83.30" y2="500.50" stroke="#0000ff" stroke-width="1.6" />
<line x1="74.30" y1="508.90" x2="83.30" y2="508.90" stroke="#0000ff" stroke-width="1.6" />
<line x1="102.20" y1="517.20" x2="102.20" y2="522.80" stroke="#ff0000" stroke-width="1.6" />
<line x1="97.70" y1="517.20" x2="106.70" y2="517.20" stroke="#ff0000" stroke-width="1.6" />
<line x1="97.70" y1="522.80" x2="106.70" y2="522.80" stroke="#ff0000" stroke-width="1.6" />
<line x1="140.70" y1="500.50" x2="140.70" y2="505.10" stroke="#0000ff" stroke-width="1.6" />
<line x1="136.20" y1="500.50" x2="145.20" y2="500.50" stroke="#0000ff" stroke-width="1.6" />
<line x1="136.20" y1="505.10" x2="145.20" y2="505.10" stroke="#0000ff" stroke-width="1.6" />
<line x1="163.50" y1="517.20" x2="163.50" y2="521.50" stroke="#ff0000" stroke-width="1.6" />
<line x1="159.00" y1="517.20" x2="168.00" y2="517.20" stroke="#ff0000" stroke-width="1.6" />
<line x1="159.00" y1="521.50" x2="168.00" y2="521.50" stroke="#ff0000" stroke-width="1.6" />
<circle cx="78.80" cy="490.30" r="2.3" fill="none" stroke="#0000ff" stroke-width="1.5"/>
<circle cx="74.50" cy="495.90" r="2.3" fill="none" stroke="#0000ff" stroke-width="1.5"/>
<circle cx="82.50" cy="495.50" r="2.3" fill="none" stroke="#0000ff" stroke-width="1.5"/>
<circle cx="78.80" cy="499.60" r="2.3" fill="none" stroke="#0000ff" stroke-width="1.5"/>
<circle cx="72.60" cy="507.00" r="2.3" fill="none" stroke="#0000ff" stroke-width="1.5"/>
<circle cx="82.90" cy="506.10" r="2.3" fill="none" stroke="#0000ff" stroke-width="1.5"/>
<circle cx="76.40" cy="510.70" r="2.3" fill="none" stroke="#0000ff" stroke-width="1.5"/>
<circle cx="80.60" cy="510.70" r="2.3" fill="none" stroke="#0000ff" stroke-width="1.5"/>
<circle cx="73.60" cy="514.40" r="2.3" fill="none" stroke="#0000ff" stroke-width="1.5"/>
<circle cx="82.90" cy="514.40" r="2.3" fill="none" stroke="#0000ff" stroke-width="1.5"/>
<circle cx="78.80" cy="517.80" r="2.3" fill="none" stroke="#0000ff" stroke-width="1.5"/>
<circle cx="77.30" cy="503.30" r="2.3" fill="none" stroke="#0000ff" stroke-width="1.5"/>
<circle cx="81.00" cy="503.30" r="2.3" fill="none" stroke="#0000ff" stroke-width="1.5"/>
<circle cx="136.70" cy="494.90" r="2.3" fill="none" stroke="#0000ff" stroke-width="1.5"/>
<circle cx="143.80" cy="494.40" r="2.3" fill="none" stroke="#0000ff" stroke-width="1.5"/>
<circle cx="145.60" cy="499.60" r="2.3" fill="none" stroke="#0000ff" stroke-width="1.5"/>
<circle cx="133.90" cy="502.90" r="2.3" fill="none" stroke="#0000ff" stroke-width="1.5"/>
<circle cx="140.80" cy="503.70" r="2.3" fill="none" stroke="#0000ff" stroke-width="1.5"/>
<circle cx="146.40" cy="504.80" r="2.3" fill="none" stroke="#0000ff" stroke-width="1.5"/>
<circle cx="143.80" cy="510.70" r="2.3" fill="none" stroke="#0000ff" stroke-width="1.5"/>
<circle cx="136.70" cy="514.40" r="2.3" fill="none" stroke="#0000ff" stroke-width="1.5"/>
<circle cx="101.80" cy="495.90" r="2.4" fill="#ff0000"/>
<circle cx="99.20" cy="505.10" r="2.4" fill="#ff0000"/>
<circle cx="105.10" cy="507.90" r="2.4" fill="#ff0000"/>
<circle cx="97.70" cy="515.40" r="2.4" fill="#ff0000"/>
<circle cx="102.40" cy="518.10" r="2.4" fill="#ff0000"/>
<circle cx="107.00" cy="517.20" r="2.4" fill="#ff0000"/>
<circle cx="100.50" cy="522.80" r="2.4" fill="#ff0000"/>
<circle cx="105.10" cy="521.90" r="2.4" fill="#ff0000"/>
<circle cx="95.90" cy="529.30" r="2.4" fill="#ff0000"/>
<circle cx="102.90" cy="530.20" r="2.4" fill="#ff0000"/>
<circle cx="97.70" cy="535.80" r="2.4" fill="#ff0000"/>
<circle cx="106.10" cy="536.30" r="2.4" fill="#ff0000"/>
<circle cx="163.10" cy="509.80" r="2.4" fill="#ff0000"/>
<circle cx="166.40" cy="512.90" r="2.4" fill="#ff0000"/>
<circle cx="159.00" cy="514.80" r="2.4" fill="#ff0000"/>
<circle cx="164.60" cy="519.10" r="2.4" fill="#ff0000"/>
<circle cx="158.10" cy="520.90" r="2.4" fill="#ff0000"/>
<circle cx="167.90" cy="520.90" r="2.4" fill="#ff0000"/>
<circle cx="160.80" cy="524.10" r="2.4" fill="#ff0000"/>
<circle cx="164.60" cy="530.20" r="2.4" fill="#ff0000"/>
<line x1="80.10" y1="484.20" x2="101.00" y2="484.20" stroke="#000" stroke-width="1.5" />
<text x="92.60" y="479.50" font-size="8.5" text-anchor="middle" fill="#222" stroke="#222" stroke-width="0.15"><tspan font-style="italic">P</tspan>=0.0026</text>
<line x1="140.80" y1="488.40" x2="161.80" y2="488.40" stroke="#000" stroke-width="1.5" />
<text x="154.30" y="485.10" font-size="8.5" text-anchor="middle" fill="#222" stroke="#222" stroke-width="0.15"><tspan font-style="italic">P</tspan>=0.0009</text>
<circle cx="119.10" cy="459.60" r="2.3" fill="none" stroke="#0000ff" stroke-width="1.5"/>
<text x="131.10" y="463.40" font-size="10" font-weight="bold" text-anchor="start" fill="#000" stroke="#000" stroke-width="0.3" >NCD</text>
<circle cx="119.10" cy="471.30" r="2.4" fill="#ff0000"/>
<text x="131.10" y="475.10" font-size="10" font-weight="bold" text-anchor="start" fill="#000" stroke="#000" stroke-width="0.3" >HFR</text>
<text x="23.00" y="527.00" font-size="11" font-weight="bold" text-anchor="middle" fill="#000" transform="rotate(-90 23.00 527.00)" stroke="#000" stroke-width="0.3" >Liver Mn-SOD activity</text>
<text x="37.50" y="528.00" font-size="11" font-weight="bold" text-anchor="middle" fill="#000" transform="rotate(-90 37.50 528.00)" stroke="#000" stroke-width="0.3" >(U/mg protein)</text>
<line x1="257.10" y1="467.05" x2="257.10" y2="591.10" stroke="#000" stroke-width="2" />
<line x1="254.10" y1="590.10" x2="257.10" y2="590.10" stroke="#000" stroke-width="2" />
<text x="252.60" y="594.12" font-size="11" font-weight="bold" text-anchor="end" fill="#000" stroke="#000" stroke-width="0.3" >0</text>
<line x1="254.10" y1="565.59" x2="257.10" y2="565.59" stroke="#000" stroke-width="2" />
<text x="252.60" y="569.61" font-size="11" font-weight="bold" text-anchor="end" fill="#000" stroke="#000" stroke-width="0.3" >20</text>
<line x1="254.10" y1="541.08" x2="257.10" y2="541.08" stroke="#000" stroke-width="2" />
<text x="252.60" y="545.10" font-size="11" font-weight="bold" text-anchor="end" fill="#000" stroke="#000" stroke-width="0.3" >40</text>
<line x1="254.10" y1="516.57" x2="257.10" y2="516.57" stroke="#000" stroke-width="2" />
<text x="252.60" y="520.59" font-size="11" font-weight="bold" text-anchor="end" fill="#000" stroke="#000" stroke-width="0.3" >60</text>
<line x1="254.10" y1="492.06" x2="257.10" y2="492.06" stroke="#000" stroke-width="2" />
<text x="252.60" y="496.07" font-size="11" font-weight="bold" text-anchor="end" fill="#000" stroke="#000" stroke-width="0.3" >80</text>
<line x1="254.10" y1="467.55" x2="257.10" y2="467.55" stroke="#000" stroke-width="2" />
<text x="252.60" y="471.56" font-size="11" font-weight="bold" text-anchor="end" fill="#000" stroke="#000" stroke-width="0.3" >100</text>
<line x1="256.10" y1="590.10" x2="382.00" y2="590.10" stroke="#000" stroke-width="2" />
<line x1="289.00" y1="590.10" x2="289.00" y2="593.60" stroke="#000" stroke-width="2" />
<line x1="349.70" y1="590.10" x2="349.70" y2="593.60" stroke="#000" stroke-width="2" />
<text x="289.00" y="604.80" font-size="11.5" font-weight="bold" text-anchor="middle" fill="#000" stroke="#000" stroke-width="0.3" >2W</text>
<text x="349.70" y="604.80" font-size="11.5" font-weight="bold" text-anchor="middle" fill="#000" stroke="#000" stroke-width="0.3" >8W</text>
<path d="M269.60 590.10 V490.20 H285.00 V590.10" fill="none" stroke="#0000ff" stroke-width="2"/>
<path d="M292.40 590.10 V502.70 H308.00 V590.10" fill="none" stroke="#ff0000" stroke-width="2"/>
<path d="M331.00 590.10 V491.50 H346.40 V590.10" fill="none" stroke="#0000ff" stroke-width="2"/>
<path d="M353.60 590.10 V504.10 H369.40 V590.10" fill="none" stroke="#ff0000" stroke-width="2"/>
<line x1="277.40" y1="487.40" x2="277.40" y2="492.00" stroke="#0000ff" stroke-width="1.6" />
<line x1="272.90" y1="487.40" x2="281.90" y2="487.40" stroke="#0000ff" stroke-width="1.6" />
<line x1="272.90" y1="492.00" x2="281.90" y2="492.00" stroke="#0000ff" stroke-width="1.6" />
<line x1="300.40" y1="499.40" x2="300.40" y2="504.00" stroke="#ff0000" stroke-width="1.6" />
<line x1="295.90" y1="499.40" x2="304.90" y2="499.40" stroke="#ff0000" stroke-width="1.6" />
<line x1="295.90" y1="504.00" x2="304.90" y2="504.00" stroke="#ff0000" stroke-width="1.6" />
<line x1="338.70" y1="488.70" x2="338.70" y2="495.30" stroke="#0000ff" stroke-width="1.6" />
<line x1="334.20" y1="488.70" x2="343.20" y2="488.70" stroke="#0000ff" stroke-width="1.6" />
<line x1="334.20" y1="495.30" x2="343.20" y2="495.30" stroke="#0000ff" stroke-width="1.6" />
<line x1="361.70" y1="500.40" x2="361.70" y2="505.00" stroke="#ff0000" stroke-width="1.6" />
<line x1="357.20" y1="500.40" x2="366.20" y2="500.40" stroke="#ff0000" stroke-width="1.6" />
<line x1="357.20" y1="505.00" x2="366.20" y2="505.00" stroke="#ff0000" stroke-width="1.6" />
<circle cx="277.50" cy="473.40" r="2.3" fill="none" stroke="#0000ff" stroke-width="1.5"/>
<circle cx="277.50" cy="482.30" r="2.3" fill="none" stroke="#0000ff" stroke-width="1.5"/>
<circle cx="272.30" cy="485.50" r="2.3" fill="none" stroke="#0000ff" stroke-width="1.5"/>
<circle cx="282.50" cy="485.50" r="2.3" fill="none" stroke="#0000ff" stroke-width="1.5"/>
<circle cx="273.20" cy="489.20" r="2.3" fill="none" stroke="#0000ff" stroke-width="1.5"/>
<circle cx="277.90" cy="488.30" r="2.3" fill="none" stroke="#0000ff" stroke-width="1.5"/>
<circle cx="281.60" cy="489.20" r="2.3" fill="none" stroke="#0000ff" stroke-width="1.5"/>
<circle cx="271.90" cy="492.90" r="2.3" fill="none" stroke="#0000ff" stroke-width="1.5"/>
<circle cx="276.00" cy="492.60" r="2.3" fill="none" stroke="#0000ff" stroke-width="1.5"/>
<circle cx="280.60" cy="492.90" r="2.3" fill="none" stroke="#0000ff" stroke-width="1.5"/>
<circle cx="283.40" cy="493.90" r="2.3" fill="none" stroke="#0000ff" stroke-width="1.5"/>
<circle cx="273.80" cy="496.60" r="2.3" fill="none" stroke="#0000ff" stroke-width="1.5"/>
<circle cx="277.90" cy="497.60" r="2.3" fill="none" stroke="#0000ff" stroke-width="1.5"/>
<circle cx="281.90" cy="496.60" r="2.3" fill="none" stroke="#0000ff" stroke-width="1.5"/>
<circle cx="276.90" cy="499.10" r="2.3" fill="none" stroke="#0000ff" stroke-width="1.5"/>
<circle cx="334.50" cy="481.20" r="2.3" fill="none" stroke="#0000ff" stroke-width="1.5"/>
<circle cx="339.10" cy="484.60" r="2.3" fill="none" stroke="#0000ff" stroke-width="1.5"/>
<circle cx="343.80" cy="484.60" r="2.3" fill="none" stroke="#0000ff" stroke-width="1.5"/>
<circle cx="331.70" cy="492.00" r="2.3" fill="none" stroke="#0000ff" stroke-width="1.5"/>
<circle cx="340.60" cy="491.10" r="2.3" fill="none" stroke="#0000ff" stroke-width="1.5"/>
<circle cx="345.10" cy="493.50" r="2.3" fill="none" stroke="#0000ff" stroke-width="1.5"/>
<circle cx="341.90" cy="497.60" r="2.3" fill="none" stroke="#0000ff" stroke-width="1.5"/>
<circle cx="335.40" cy="501.70" r="2.3" fill="none" stroke="#0000ff" stroke-width="1.5"/>
<circle cx="297.40" cy="488.70" r="2.4" fill="#ff0000"/>
<circle cx="306.60" cy="489.80" r="2.4" fill="#ff0000"/>
<circle cx="302.00" cy="493.90" r="2.4" fill="#ff0000"/>
<circle cx="297.40" cy="496.60" r="2.4" fill="#ff0000"/>
<circle cx="304.80" cy="499.10" r="2.4" fill="#ff0000"/>
<circle cx="294.60" cy="501.30" r="2.4" fill="#ff0000"/>
<circle cx="299.80" cy="499.40" r="2.4" fill="#ff0000"/>
<circle cx="303.90" cy="502.20" r="2.4" fill="#ff0000"/>
<circle cx="295.50" cy="505.00" r="2.4" fill="#ff0000"/>
<circle cx="300.10" cy="505.90" r="2.4" fill="#ff0000"/>
<circle cx="304.80" cy="511.50" r="2.4" fill="#ff0000"/>
<circle cx="296.10" cy="516.10" r="2.4" fill="#ff0000"/>
<circle cx="300.50" cy="516.30" r="2.4" fill="#ff0000"/>
<circle cx="361.40" cy="493.90" r="2.4" fill="#ff0000"/>
<circle cx="365.10" cy="496.60" r="2.4" fill="#ff0000"/>
<circle cx="357.70" cy="500.40" r="2.4" fill="#ff0000"/>
<circle cx="366.10" cy="501.30" r="2.4" fill="#ff0000"/>
<circle cx="361.00" cy="503.10" r="2.4" fill="#ff0000"/>
<circle cx="354.90" cy="504.10" r="2.4" fill="#ff0000"/>
<circle cx="363.30" cy="507.80" r="2.4" fill="#ff0000"/>
<circle cx="358.60" cy="514.30" r="2.4" fill="#ff0000"/>
<line x1="277.90" y1="467.30" x2="299.20" y2="467.30" stroke="#000" stroke-width="1.5" />
<text x="291.30" y="463.80" font-size="8.5" text-anchor="middle" fill="#222" stroke="#222" stroke-width="0.15"><tspan font-style="italic">P</tspan>=0.0019</text>
<line x1="336.40" y1="475.80" x2="357.70" y2="475.80" stroke="#000" stroke-width="1.5" />
<text x="345.00" y="473.40" font-size="8.5" text-anchor="middle" fill="#222" stroke="#222" stroke-width="0.15"><tspan font-style="italic">P</tspan>=0.0051</text>
<circle cx="315.90" cy="444.80" r="2.3" fill="none" stroke="#0000ff" stroke-width="1.5"/>
<text x="328.00" y="448.60" font-size="10" font-weight="bold" text-anchor="start" fill="#000" stroke="#000" stroke-width="0.3" >NCD</text>
<circle cx="315.90" cy="456.80" r="2.4" fill="#ff0000"/>
<text x="328.00" y="460.60" font-size="10" font-weight="bold" text-anchor="start" fill="#000" stroke="#000" stroke-width="0.3" >HFR</text>
<text x="214.80" y="526.50" font-size="11" font-weight="bold" text-anchor="middle" fill="#000" transform="rotate(-90 214.80 526.50)" stroke="#000" stroke-width="0.3" >Liver total SOD activity</text>
<text x="229.50" y="526.20" font-size="11" font-weight="bold" text-anchor="middle" fill="#000" transform="rotate(-90 229.50 526.20)" stroke="#000" stroke-width="0.3" >(U/mg protein)</text>
<text x="515.40" y="465.40" font-size="14.3" font-weight="normal" text-anchor="middle" fill="#000" >NCD</text>
<text x="596.00" y="465.40" font-size="14.3" font-weight="normal" text-anchor="middle" fill="#000" >HFR</text>
<line x1="476.60" y1="473.80" x2="554.30" y2="473.80" stroke="#222" stroke-width="1.4" />
<line x1="557.10" y1="473.80" x2="634.90" y2="473.80" stroke="#222" stroke-width="1.4" />
<text x="647.40" y="478.00" font-size="14.3" font-weight="normal" text-anchor="start" fill="#000" >KDa</text>
<rect x="470.00" y="478.70" width="170.20" height="19.90" fill="url(#gbox)" stroke="#333" stroke-width="1.1"/>
<g filter="url(#bl)"><path d="M475.50 489.40 Q480.30 489.40 485.10 489.40" stroke="#888" stroke-opacity="1" stroke-width="5.6" stroke-linecap="round" fill="none"/><path d="M492.00 489.40 Q496.80 489.40 501.60 489.40" stroke="#888" stroke-opacity="1" stroke-width="5.6" stroke-linecap="round" fill="none"/><path d="M508.50 489.40 Q513.30 489.40 518.10 489.40" stroke="#888" stroke-opacity="1" stroke-width="5.6" stroke-linecap="round" fill="none"/><path d="M525.00 489.40 Q529.80 489.40 534.60 489.40" stroke="#888" stroke-opacity="1" stroke-width="5.6" stroke-linecap="round" fill="none"/><path d="M541.50 489.40 Q546.30 489.40 551.10 489.40" stroke="#888" stroke-opacity="1" stroke-width="5.6" stroke-linecap="round" fill="none"/><path d="M558.00 489.40 Q562.80 489.40 567.60 489.40" stroke="#888" stroke-opacity="1" stroke-width="5.6" stroke-linecap="round" fill="none"/><path d="M574.50 489.40 Q579.30 489.40 584.10 489.40" stroke="#888" stroke-opacity="1" stroke-width="5.6" stroke-linecap="round" fill="none"/><path d="M591.00 489.40 Q595.80 489.40 600.60 489.40" stroke="#888" stroke-opacity="1" stroke-width="5.6" stroke-linecap="round" fill="none"/><path d="M607.50 489.40 Q612.30 489.40 617.10 489.40" stroke="#888" stroke-opacity="1" stroke-width="5.6" stroke-linecap="round" fill="none"/><path d="M624.00 489.40 Q628.80 489.40 633.60 489.40" stroke="#888" stroke-opacity="1" stroke-width="5.6" stroke-linecap="round" fill="none"/></g>
<g filter="url(#bl2)"><path d="M474.00 487.70 Q480.30 487.70 486.60 487.70" stroke="#2a2a2a" stroke-opacity="1" stroke-width="1.8" stroke-linecap="round" fill="none"/><path d="M490.50 487.70 Q496.80 487.70 503.10 487.70" stroke="#2a2a2a" stroke-opacity="1" stroke-width="1.8" stroke-linecap="round" fill="none"/><path d="M507.00 487.70 Q513.30 487.70 519.60 487.70" stroke="#2a2a2a" stroke-opacity="1" stroke-width="1.8" stroke-linecap="round" fill="none"/><path d="M523.50 487.70 Q529.80 487.70 536.10 487.70" stroke="#2a2a2a" stroke-opacity="1" stroke-width="1.8" stroke-linecap="round" fill="none"/><path d="M540.00 487.70 Q546.30 487.70 552.60 487.70" stroke="#2a2a2a" stroke-opacity="1" stroke-width="1.8" stroke-linecap="round" fill="none"/><path d="M556.50 487.70 Q562.80 487.70 569.10 487.70" stroke="#2a2a2a" stroke-opacity="1" stroke-width="1.8" stroke-linecap="round" fill="none"/><path d="M573.00 487.70 Q579.30 487.70 585.60 487.70" stroke="#2a2a2a" stroke-opacity="1" stroke-width="1.8" stroke-linecap="round" fill="none"/><path d="M589.50 487.70 Q595.80 487.70 602.10 487.70" stroke="#2a2a2a" stroke-opacity="1" stroke-width="1.8" stroke-linecap="round" fill="none"/><path d="M606.00 487.70 Q612.30 487.70 618.60 487.70" stroke="#2a2a2a" stroke-opacity="1" stroke-width="1.8" stroke-linecap="round" fill="none"/><path d="M622.50 487.70 Q628.80 487.70 635.10 487.70" stroke="#2a2a2a" stroke-opacity="1" stroke-width="1.8" stroke-linecap="round" fill="none"/></g>
<g filter="url(#bl2)"><path d="M474.00 491.00 Q480.30 491.00 486.60 491.00" stroke="#555" stroke-opacity="1" stroke-width="1.8" stroke-linecap="round" fill="none"/><path d="M490.50 491.00 Q496.80 491.00 503.10 491.00" stroke="#555" stroke-opacity="1" stroke-width="1.8" stroke-linecap="round" fill="none"/><path d="M507.00 491.00 Q513.30 491.00 519.60 491.00" stroke="#555" stroke-opacity="1" stroke-width="1.8" stroke-linecap="round" fill="none"/><path d="M523.50 491.00 Q529.80 491.00 536.10 491.00" stroke="#555" stroke-opacity="1" stroke-width="1.8" stroke-linecap="round" fill="none"/><path d="M540.00 491.00 Q546.30 491.00 552.60 491.00" stroke="#555" stroke-opacity="1" stroke-width="1.8" stroke-linecap="round" fill="none"/><path d="M556.50 491.00 Q562.80 491.00 569.10 491.00" stroke="#555" stroke-opacity="1" stroke-width="1.8" stroke-linecap="round" fill="none"/><path d="M573.00 491.00 Q579.30 491.00 585.60 491.00" stroke="#555" stroke-opacity="1" stroke-width="1.8" stroke-linecap="round" fill="none"/><path d="M589.50 491.00 Q595.80 491.00 602.10 491.00" stroke="#555" stroke-opacity="1" stroke-width="1.8" stroke-linecap="round" fill="none"/><path d="M606.00 491.00 Q612.30 491.00 618.60 491.00" stroke="#555" stroke-opacity="1" stroke-width="1.8" stroke-linecap="round" fill="none"/><path d="M622.50 491.00 Q628.80 491.00 635.10 491.00" stroke="#555" stroke-opacity="1" stroke-width="1.8" stroke-linecap="round" fill="none"/></g>
<rect x="470.00" y="511.20" width="170.20" height="14.10" fill="url(#gbox)" stroke="#333" stroke-width="1.1"/>
<g filter="url(#bl)"><path d="M475.30 517.40 Q480.30 517.40 485.30 517.40" stroke="#666" stroke-opacity="1" stroke-width="4.8" stroke-linecap="round" fill="none"/><path d="M491.80 517.40 Q496.80 517.40 501.80 517.40" stroke="#666" stroke-opacity="0.9" stroke-width="4.8" stroke-linecap="round" fill="none"/><path d="M508.30 517.40 Q513.30 517.40 518.30 517.40" stroke="#666" stroke-opacity="0.6" stroke-width="4.8" stroke-linecap="round" fill="none"/><path d="M524.80 517.40 Q529.80 517.40 534.80 517.40" stroke="#666" stroke-opacity="0.9" stroke-width="4.8" stroke-linecap="round" fill="none"/><path d="M541.30 517.40 Q546.30 517.40 551.30 517.40" stroke="#666" stroke-opacity="0.7" stroke-width="4.8" stroke-linecap="round" fill="none"/><path d="M557.80 517.40 Q562.80 517.40 567.80 517.40" stroke="#666" stroke-opacity="0.9" stroke-width="4.8" stroke-linecap="round" fill="none"/><path d="M574.30 517.40 Q579.30 517.40 584.30 517.40" stroke="#666" stroke-opacity="1" stroke-width="4.8" stroke-linecap="round" fill="none"/><path d="M590.80 517.40 Q595.80 517.40 600.80 517.40" stroke="#666" stroke-opacity="0.85" stroke-width="4.8" stroke-linecap="round" fill="none"/><path d="M607.30 517.40 Q612.30 517.40 617.30 517.40" stroke="#666" stroke-opacity="1" stroke-width="4.8" stroke-linecap="round" fill="none"/><path d="M623.80 517.40 Q628.80 517.40 633.80 517.40" stroke="#666" stroke-opacity="0.9" stroke-width="4.8" stroke-linecap="round" fill="none"/></g>
<g filter="url(#bl2)"><path d="M475.00 517.40 Q480.30 517.40 485.60 517.40" stroke="#000" stroke-opacity="1" stroke-width="3.4" stroke-linecap="round" fill="none"/><path d="M491.50 517.40 Q496.80 517.40 502.10 517.40" stroke="#000" stroke-opacity="0.95" stroke-width="3.4" stroke-linecap="round" fill="none"/><path d="M508.00 517.40 Q513.30 517.40 518.60 517.40" stroke="#000" stroke-opacity="0.75" stroke-width="3.4" stroke-linecap="round" fill="none"/><path d="M524.50 517.10 Q529.80 517.10 535.10 517.10" stroke="#000" stroke-opacity="0.95" stroke-width="3.4" stroke-linecap="round" fill="none"/><path d="M541.00 517.40 Q546.30 517.40 551.60 517.40" stroke="#000" stroke-opacity="0.8" stroke-width="3.4" stroke-linecap="round" fill="none"/><path d="M557.50 517.10 Q562.80 517.10 568.10 517.10" stroke="#000" stroke-opacity="0.95" stroke-width="3.4" stroke-linecap="round" fill="none"/><path d="M574.00 517.10 Q579.30 517.10 584.60 517.10" stroke="#000" stroke-opacity="1" stroke-width="3.4" stroke-linecap="round" fill="none"/><path d="M590.50 517.40 Q595.80 517.40 601.10 517.40" stroke="#000" stroke-opacity="0.9" stroke-width="3.4" stroke-linecap="round" fill="none"/><path d="M607.00 517.40 Q612.30 517.40 617.60 517.40" stroke="#000" stroke-opacity="1" stroke-width="3.4" stroke-linecap="round" fill="none"/><path d="M623.50 517.40 Q628.80 517.40 634.10 517.40" stroke="#000" stroke-opacity="0.95" stroke-width="3.4" stroke-linecap="round" fill="none"/></g>
<rect x="470.00" y="535.90" width="170.20" height="17.50" fill="url(#gbox)" stroke="#333" stroke-width="1.1"/>
<g filter="url(#bl)"><path d="M474.40 543.80 Q480.30 543.80 486.20 543.80" stroke="#777" stroke-opacity="1" stroke-width="4.6" stroke-linecap="round" fill="none"/><path d="M490.90 543.80 Q496.80 543.80 502.70 543.80" stroke="#777" stroke-opacity="1" stroke-width="4.6" stroke-linecap="round" fill="none"/><path d="M507.40 543.80 Q513.30 543.80 519.20 543.80" stroke="#777" stroke-opacity="1" stroke-width="4.6" stroke-linecap="round" fill="none"/><path d="M523.90 543.80 Q529.80 543.80 535.70 543.80" stroke="#777" stroke-opacity="1" stroke-width="4.6" stroke-linecap="round" fill="none"/><path d="M540.40 543.80 Q546.30 543.80 552.20 543.80" stroke="#777" stroke-opacity="1" stroke-width="4.6" stroke-linecap="round" fill="none"/><path d="M556.90 543.80 Q562.80 543.80 568.70 543.80" stroke="#777" stroke-opacity="1" stroke-width="4.6" stroke-linecap="round" fill="none"/><path d="M573.40 543.80 Q579.30 543.80 585.20 543.80" stroke="#777" stroke-opacity="1" stroke-width="4.6" stroke-linecap="round" fill="none"/><path d="M589.90 543.80 Q595.80 543.80 601.70 543.80" stroke="#777" stroke-opacity="1" stroke-width="4.6" stroke-linecap="round" fill="none"/><path d="M606.40 543.80 Q612.30 543.80 618.20 543.80" stroke="#777" stroke-opacity="1" stroke-width="4.6" stroke-linecap="round" fill="none"/><path d="M622.90 543.80 Q628.80 543.80 634.70 543.80" stroke="#777" stroke-opacity="1" stroke-width="4.6" stroke-linecap="round" fill="none"/></g>
<g filter="url(#bl2)"><path d="M473.90 543.80 Q480.30 543.80 486.70 543.80" stroke="#000" stroke-opacity="1" stroke-width="3.2" stroke-linecap="round" fill="none"/><path d="M490.40 543.80 Q496.80 543.80 503.20 543.80" stroke="#000" stroke-opacity="1" stroke-width="3.2" stroke-linecap="round" fill="none"/><path d="M506.90 543.80 Q513.30 543.80 519.70 543.80" stroke="#000" stroke-opacity="1" stroke-width="3.2" stroke-linecap="round" fill="none"/><path d="M523.40 543.80 Q529.80 543.80 536.20 543.80" stroke="#000" stroke-opacity="1" stroke-width="3.2" stroke-linecap="round" fill="none"/><path d="M539.90 543.80 Q546.30 543.80 552.70 543.80" stroke="#000" stroke-opacity="1" stroke-width="3.2" stroke-linecap="round" fill="none"/><path d="M556.40 543.80 Q562.80 543.80 569.20 543.80" stroke="#000" stroke-opacity="1" stroke-width="3.2" stroke-linecap="round" fill="none"/><path d="M572.90 543.80 Q579.30 543.80 585.70 543.80" stroke="#000" stroke-opacity="1" stroke-width="3.2" stroke-linecap="round" fill="none"/><path d="M589.40 543.80 Q595.80 543.80 602.20 543.80" stroke="#000" stroke-opacity="1" stroke-width="3.2" stroke-linecap="round" fill="none"/><path d="M605.90 543.80 Q612.30 543.80 618.70 543.80" stroke="#000" stroke-opacity="1" stroke-width="3.2" stroke-linecap="round" fill="none"/><path d="M622.40 543.80 Q628.80 543.80 635.20 543.80" stroke="#000" stroke-opacity="1" stroke-width="3.2" stroke-linecap="round" fill="none"/></g>
<rect x="470.00" y="565.70" width="170.20" height="16.00" fill="url(#gbox)" stroke="#333" stroke-width="1.1"/>
<g filter="url(#bl)"><path d="M474.70 573.40 Q480.30 574.20 485.90 573.40" stroke="#666" stroke-opacity="1" stroke-width="5.2" stroke-linecap="round" fill="none"/><path d="M491.20 573.40 Q496.80 574.20 502.40 573.40" stroke="#666" stroke-opacity="1" stroke-width="5.2" stroke-linecap="round" fill="none"/><path d="M507.70 573.40 Q513.30 574.20 518.90 573.40" stroke="#666" stroke-opacity="1" stroke-width="5.2" stroke-linecap="round" fill="none"/><path d="M524.20 573.40 Q529.80 574.20 535.40 573.40" stroke="#666" stroke-opacity="1" stroke-width="5.2" stroke-linecap="round" fill="none"/><path d="M540.70 573.40 Q546.30 574.20 551.90 573.40" stroke="#666" stroke-opacity="1" stroke-width="5.2" stroke-linecap="round" fill="none"/><path d="M557.20 573.40 Q562.80 574.20 568.40 573.40" stroke="#666" stroke-opacity="1" stroke-width="5.2" stroke-linecap="round" fill="none"/><path d="M573.70 573.40 Q579.30 574.20 584.90 573.40" stroke="#666" stroke-opacity="1" stroke-width="5.2" stroke-linecap="round" fill="none"/><path d="M590.20 573.40 Q595.80 574.20 601.40 573.40" stroke="#666" stroke-opacity="1" stroke-width="5.2" stroke-linecap="round" fill="none"/><path d="M606.70 573.40 Q612.30 574.20 617.90 573.40" stroke="#666" stroke-opacity="1" stroke-width="5.2" stroke-linecap="round" fill="none"/><path d="M623.20 573.40 Q628.80 574.20 634.40 573.40" stroke="#666" stroke-opacity="1" stroke-width="5.2" stroke-linecap="round" fill="none"/></g>
<g filter="url(#bl2)"><path d="M474.20 573.20 Q480.30 574.00 486.40 573.20" stroke="#000" stroke-opacity="1" stroke-width="3.8" stroke-linecap="round" fill="none"/><path d="M490.70 573.20 Q496.80 574.00 502.90 573.20" stroke="#000" stroke-opacity="1" stroke-width="3.8" stroke-linecap="round" fill="none"/><path d="M507.20 573.20 Q513.30 574.00 519.40 573.20" stroke="#000" stroke-opacity="1" stroke-width="3.8" stroke-linecap="round" fill="none"/><path d="M523.70 573.20 Q529.80 574.00 535.90 573.20" stroke="#000" stroke-opacity="1" stroke-width="3.8" stroke-linecap="round" fill="none"/><path d="M540.20 573.20 Q546.30 574.00 552.40 573.20" stroke="#000" stroke-opacity="1" stroke-width="3.8" stroke-linecap="round" fill="none"/><path d="M556.70 573.20 Q562.80 574.00 568.90 573.20" stroke="#000" stroke-opacity="1" stroke-width="3.8" stroke-linecap="round" fill="none"/><path d="M573.20 573.20 Q579.30 574.00 585.40 573.20" stroke="#000" stroke-opacity="1" stroke-width="3.8" stroke-linecap="round" fill="none"/><path d="M589.70 573.20 Q595.80 574.00 601.90 573.20" stroke="#000" stroke-opacity="1" stroke-width="3.8" stroke-linecap="round" fill="none"/><path d="M606.20 573.20 Q612.30 574.00 618.40 573.20" stroke="#000" stroke-opacity="1" stroke-width="3.8" stroke-linecap="round" fill="none"/><path d="M622.70 573.20 Q628.80 574.00 634.90 573.20" stroke="#000" stroke-opacity="1" stroke-width="3.8" stroke-linecap="round" fill="none"/></g>
<text x="465.80" y="494.60" font-size="14.3" font-weight="normal" text-anchor="end" fill="#000" >ARG1</text>
<text x="467.40" y="523.70" font-size="14.3" font-weight="normal" text-anchor="end" fill="#000" >Cu/Zn-SOD</text>
<text x="465.50" y="550.00" font-size="14.3" font-weight="normal" text-anchor="end" fill="#000" >Mn-SOD</text>
<text x="465.10" y="575.10" font-size="14.3" font-weight="normal" text-anchor="end" fill="#000" >β-actin</text>
<line x1="640.80" y1="495.40" x2="651.20" y2="495.40" stroke="#111" stroke-width="1.6" />
<text x="655.50" y="499.70" font-size="14.3" font-weight="normal" text-anchor="start" fill="#000" >33</text>
<line x1="640.80" y1="523.90" x2="651.20" y2="523.90" stroke="#111" stroke-width="1.6" />
<text x="655.50" y="528.30" font-size="14.3" font-weight="normal" text-anchor="start" fill="#000" >17</text>
<line x1="640.80" y1="538.90" x2="651.20" y2="538.90" stroke="#111" stroke-width="1.6" />
<text x="655.50" y="543.60" font-size="14.3" font-weight="normal" text-anchor="start" fill="#000" >25</text>
<line x1="640.80" y1="580.10" x2="651.20" y2="580.10" stroke="#111" stroke-width="1.6" />
<text x="655.50" y="585.00" font-size="14.3" font-weight="normal" text-anchor="start" fill="#000" >43</text>
<path d="M19.5 723 C14 723.2 8 723.5 5.5 727.5 L4 729.8" fill="none" stroke="#c99892" stroke-width="1.3" stroke-linecap="round"/>
<ellipse cx="20.6" cy="727.3" rx="1.6" ry="1.1" fill="#d6a8a2"/>
<ellipse cx="26.4" cy="729.3" rx="1.4" ry="1.3" fill="#d6a8a2"/>
<ellipse cx="35" cy="729" rx="1.5" ry="1.2" fill="#d6a8a2"/>
<ellipse cx="36.2" cy="716.4" rx="2.3" ry="2.9" fill="#c9a09b" stroke="#5a5050" stroke-width="0.6"/>
<ellipse cx="27.6" cy="720.2" rx="8.8" ry="7.5" fill="#4e4949"/>
<ellipse cx="25.4" cy="716.8" rx="1.9" ry="2.8" fill="#b98f8b"/>
<circle cx="28.3" cy="721.4" r="0.7" fill="#151515"/>
<circle cx="32.5" cy="721.2" r="0.7" fill="#151515"/>
<circle cx="30.2" cy="725.3" r="0.7" fill="#e8dada"/>
<rect x="48.9" y="725.3" width="157" height="3.2" fill="#222"/>
<path d="M204.5 721.8 L211.8 726.9 L204.5 732 Z" fill="#222"/>
<line x1="50.20" y1="709.00" x2="50.20" y2="720.50" stroke="#222" stroke-width="1.1" />
<path d="M47.90 719.2 L50.20 724.2 L52.50 719.2 Z" fill="#222"/>
<line x1="159.80" y1="709.00" x2="159.80" y2="720.50" stroke="#222" stroke-width="1.1" />
<path d="M157.50 719.2 L159.80 724.2 L162.10 719.2 Z" fill="#222"/>
<line x1="202.30" y1="709.00" x2="202.30" y2="720.50" stroke="#222" stroke-width="1.1" />
<path d="M200.00 719.2 L202.30 724.2 L204.60 719.2 Z" fill="#222"/>
<text transform="translate(18.00 706.00) scale(0.88 1)" x="0" y="0" font-size="8.7" font-weight="bold" fill="#222">Fed NCD or HFR</text>
<text transform="translate(88.30 722.00) scale(0.88 1)" x="0" y="0" font-size="8.7" font-weight="bold" fill="#222">2 weeks</text>
<text transform="translate(146.60 696.60) scale(0.88 1)" x="0" y="0" font-size="8.7" font-weight="bold" fill="#222">i.p. PBS</text>
<text transform="translate(149.10 706.00) scale(0.88 1)" x="0" y="0" font-size="8.7" font-weight="bold" fill="#222">or CCl<tspan font-size="6.2" dy="0.6">4</tspan></text>
<text transform="translate(163.70 722.00) scale(0.88 1)" x="0" y="0" font-size="8.7" font-weight="bold" fill="#222">48 hours</text>
<text transform="translate(190.30 705.70) scale(0.88 1)" x="0" y="0" font-size="8.7" font-weight="bold" fill="#222">i.p.NH<tspan font-size="6.2" dy="0.6">4</tspan><tspan dy="-0.6">Cl</tspan></text>
<line x1="286.20" y1="658.10" x2="286.20" y2="782.10" stroke="#000" stroke-width="2" />
<line x1="283.20" y1="781.10" x2="286.20" y2="781.10" stroke="#000" stroke-width="2" />
<text x="281.70" y="785.12" font-size="11" font-weight="bold" text-anchor="end" fill="#000" stroke="#000" stroke-width="0.3" >0</text>
<line x1="283.20" y1="756.60" x2="286.20" y2="756.60" stroke="#000" stroke-width="2" />
<text x="281.70" y="760.62" font-size="11" font-weight="bold" text-anchor="end" fill="#000" stroke="#000" stroke-width="0.3" >1000</text>
<line x1="283.20" y1="732.10" x2="286.20" y2="732.10" stroke="#000" stroke-width="2" />
<text x="281.70" y="736.12" font-size="11" font-weight="bold" text-anchor="end" fill="#000" stroke="#000" stroke-width="0.3" >2000</text>
<line x1="283.20" y1="707.60" x2="286.20" y2="707.60" stroke="#000" stroke-width="2" />
<text x="281.70" y="711.62" font-size="11" font-weight="bold" text-anchor="end" fill="#000" stroke="#000" stroke-width="0.3" >3000</text>
<line x1="283.20" y1="683.10" x2="286.20" y2="683.10" stroke="#000" stroke-width="2" />
<text x="281.70" y="687.12" font-size="11" font-weight="bold" text-anchor="end" fill="#000" stroke="#000" stroke-width="0.3" >4000</text>
<line x1="283.20" y1="658.60" x2="286.20" y2="658.60" stroke="#000" stroke-width="2" />
<text x="281.70" y="662.62" font-size="11" font-weight="bold" text-anchor="end" fill="#000" stroke="#000" stroke-width="0.3" >5000</text>
<line x1="285.20" y1="781.10" x2="451.00" y2="781.10" stroke="#000" stroke-width="2" />
<line x1="286.60" y1="781.10" x2="286.60" y2="784.60" stroke="#000" stroke-width="2" />
<text x="286.60" y="796.30" font-size="10.5" font-weight="bold" text-anchor="middle" fill="#000" stroke="#000" stroke-width="0.3" >0</text>
<line x1="313.80" y1="781.10" x2="313.80" y2="784.60" stroke="#000" stroke-width="2" />
<text x="313.80" y="796.30" font-size="10.5" font-weight="bold" text-anchor="middle" fill="#000" stroke="#000" stroke-width="0.3" >10</text>
<line x1="341.00" y1="781.10" x2="341.00" y2="784.60" stroke="#000" stroke-width="2" />
<text x="341.00" y="796.30" font-size="10.5" font-weight="bold" text-anchor="middle" fill="#000" stroke="#000" stroke-width="0.3" >20</text>
<line x1="368.20" y1="781.10" x2="368.20" y2="784.60" stroke="#000" stroke-width="2" />
<text x="368.20" y="796.30" font-size="10.5" font-weight="bold" text-anchor="middle" fill="#000" stroke="#000" stroke-width="0.3" >30</text>
<line x1="395.40" y1="781.10" x2="395.40" y2="784.60" stroke="#000" stroke-width="2" />
<text x="395.40" y="796.30" font-size="10.5" font-weight="bold" text-anchor="middle" fill="#000" stroke="#000" stroke-width="0.3" >40</text>
<line x1="422.60" y1="781.10" x2="422.60" y2="784.60" stroke="#000" stroke-width="2" />
<text x="422.60" y="796.30" font-size="10.5" font-weight="bold" text-anchor="middle" fill="#000" stroke="#000" stroke-width="0.3" >50</text>
<line x1="449.80" y1="781.10" x2="449.80" y2="784.60" stroke="#000" stroke-width="2" />
<text x="449.80" y="796.30" font-size="10.5" font-weight="bold" text-anchor="middle" fill="#000" stroke="#000" stroke-width="0.3" >60</text>
<text x="368.3" y="811.7" font-size="11" font-weight="bold" text-anchor="middle">Time after NH<tspan font-size="8" dy="2">4</tspan><tspan dy="-2">Cl injection (min)</tspan></text>
<text x="251.00" y="718.30" font-size="11" font-weight="bold" text-anchor="middle" fill="#000" transform="rotate(-90 251.00 718.30)" stroke="#000" stroke-width="0.3" >Plasma ammonia (μmol/L)</text>
<polyline points="286.60,771.20 313.80,733.80 341.00,751.40 368.20,762.10 449.80,773.00" fill="none" stroke="#ff0000" stroke-width="1.4" stroke-dasharray="3.2 2.2"/>
<polyline points="286.60,761.60 313.80,685.80 341.00,730.90 368.20,746.20 449.80,766.70" fill="none" stroke="#ff0000" stroke-width="1.4" stroke-dasharray="3.2 2.2"/>
<polyline points="286.60,769.70 313.80,733.80 341.00,750.90 368.20,764.30 449.80,775.70" fill="none" stroke="#0000ff" stroke-width="1.4"/>
<polyline points="286.60,761.60 313.80,707.40 341.00,740.40 368.20,752.40 449.80,767.50" fill="none" stroke="#0000ff" stroke-width="1.4"/>
<line x1="313.80" y1="730.80" x2="313.80" y2="736.80" stroke="#ff0000" stroke-width="1.5" />
<line x1="311.50" y1="730.80" x2="316.10" y2="730.80" stroke="#ff0000" stroke-width="1.5" />
<line x1="311.50" y1="736.80" x2="316.10" y2="736.80" stroke="#ff0000" stroke-width="1.5" />
<line x1="341.00" y1="746.20" x2="341.00" y2="756.60" stroke="#ff0000" stroke-width="1.5" />
<line x1="338.70" y1="746.20" x2="343.30" y2="746.20" stroke="#ff0000" stroke-width="1.5" />
<line x1="338.70" y1="756.60" x2="343.30" y2="756.60" stroke="#ff0000" stroke-width="1.5" />
<line x1="368.20" y1="759.10" x2="368.20" y2="765.10" stroke="#ff0000" stroke-width="1.5" />
<line x1="365.90" y1="759.10" x2="370.50" y2="759.10" stroke="#ff0000" stroke-width="1.5" />
<line x1="365.90" y1="765.10" x2="370.50" y2="765.10" stroke="#ff0000" stroke-width="1.5" />
<line x1="313.80" y1="681.00" x2="313.80" y2="690.60" stroke="#ff0000" stroke-width="1.5" />
<line x1="311.50" y1="681.00" x2="316.10" y2="681.00" stroke="#ff0000" stroke-width="1.5" />
<line x1="311.50" y1="690.60" x2="316.10" y2="690.60" stroke="#ff0000" stroke-width="1.5" />
<line x1="368.20" y1="743.00" x2="368.20" y2="749.40" stroke="#ff0000" stroke-width="1.5" />
<line x1="365.90" y1="743.00" x2="370.50" y2="743.00" stroke="#ff0000" stroke-width="1.5" />
<line x1="365.90" y1="749.40" x2="370.50" y2="749.40" stroke="#ff0000" stroke-width="1.5" />
<line x1="313.80" y1="730.30" x2="313.80" y2="737.30" stroke="#0000ff" stroke-width="1.5" />
<line x1="311.50" y1="730.30" x2="316.10" y2="730.30" stroke="#0000ff" stroke-width="1.5" />
<line x1="311.50" y1="737.30" x2="316.10" y2="737.30" stroke="#0000ff" stroke-width="1.5" />
<line x1="341.00" y1="747.90" x2="341.00" y2="753.90" stroke="#0000ff" stroke-width="1.5" />
<line x1="338.70" y1="747.90" x2="343.30" y2="747.90" stroke="#0000ff" stroke-width="1.5" />
<line x1="338.70" y1="753.90" x2="343.30" y2="753.90" stroke="#0000ff" stroke-width="1.5" />
<line x1="313.80" y1="703.90" x2="313.80" y2="710.90" stroke="#0000ff" stroke-width="1.5" />
<line x1="311.50" y1="703.90" x2="316.10" y2="703.90" stroke="#0000ff" stroke-width="1.5" />
<line x1="311.50" y1="710.90" x2="316.10" y2="710.90" stroke="#0000ff" stroke-width="1.5" />
<line x1="368.20" y1="750.20" x2="368.20" y2="754.60" stroke="#0000ff" stroke-width="1.5" />
<line x1="365.90" y1="750.20" x2="370.50" y2="750.20" stroke="#0000ff" stroke-width="1.5" />
<line x1="365.90" y1="754.60" x2="370.50" y2="754.60" stroke="#0000ff" stroke-width="1.5" />
<path d="M286.60 773.80 L289.20 769.12 L284.00 769.12 Z" fill="#ff0000"/>
<path d="M313.80 736.40 L316.40 731.72 L311.20 731.72 Z" fill="#ff0000"/>
<path d="M341.00 754.00 L343.60 749.32 L338.40 749.32 Z" fill="#ff0000"/>
<path d="M368.20 764.70 L370.80 760.02 L365.60 760.02 Z" fill="#ff0000"/>
<path d="M449.80 775.60 L452.40 770.92 L447.20 770.92 Z" fill="#ff0000"/>
<circle cx="286.60" cy="761.60" r="2.6" fill="#ff0000"/>
<circle cx="313.80" cy="685.80" r="2.6" fill="#ff0000"/>
<circle cx="341.00" cy="730.90" r="2.6" fill="#ff0000"/>
<circle cx="368.20" cy="746.20" r="2.6" fill="#ff0000"/>
<circle cx="449.80" cy="766.70" r="2.6" fill="#ff0000"/>
<path d="M286.60 767.10 L289.20 771.78 L284.00 771.78 Z" fill="#0000ff"/>
<path d="M313.80 731.20 L316.40 735.88 L311.20 735.88 Z" fill="#0000ff"/>
<path d="M341.00 748.30 L343.60 752.98 L338.40 752.98 Z" fill="#0000ff"/>
<path d="M368.20 761.70 L370.80 766.38 L365.60 766.38 Z" fill="#0000ff"/>
<path d="M449.80 773.10 L452.40 777.78 L447.20 777.78 Z" fill="#0000ff"/>
<circle cx="286.60" cy="761.60" r="2.6" fill="none" stroke="#0000ff" stroke-width="1.6"/>
<circle cx="313.80" cy="707.40" r="2.6" fill="none" stroke="#0000ff" stroke-width="1.6"/>
<circle cx="341.00" cy="740.40" r="2.6" fill="none" stroke="#0000ff" stroke-width="1.6"/>
<circle cx="368.20" cy="752.40" r="2.6" fill="none" stroke="#0000ff" stroke-width="1.6"/>
<circle cx="449.80" cy="767.50" r="2.6" fill="none" stroke="#0000ff" stroke-width="1.6"/>
<path d="M318.9 684.7 H322.5 V707 H318.9" fill="none" stroke="#000" stroke-width="1.6"/>
<text x="325.70" y="696.10" font-size="8.6" text-anchor="start" fill="#222" stroke="#222" stroke-width="0.15"><tspan font-style="italic">P</tspan>=0.0016</text>
<path d="M345.2 730.1 H348.6 V740.4 H345.2" fill="none" stroke="#000" stroke-width="1.6"/>
<text x="351.80" y="734.50" font-size="8.6" text-anchor="start" fill="#222" stroke="#222" stroke-width="0.15"><tspan font-style="italic">P</tspan>=0.0038</text>
<line x1="396.90" y1="670.50" x2="408.10" y2="670.50" stroke="#0000ff" stroke-width="1.4" />
<path d="M402.40 668.10 L404.80 672.42 L400.00 672.42 Z" fill="#0000ff"/>
<line x1="396.90" y1="682.30" x2="408.10" y2="682.30" stroke="#ff0000" stroke-width="1.4" stroke-dasharray="3 2.2"/>
<path d="M402.40 684.70 L404.80 680.38 L400.00 680.38 Z" fill="#ff0000"/>
<line x1="396.90" y1="694.50" x2="408.10" y2="694.50" stroke="#0000ff" stroke-width="1.4" />
<circle cx="402.40" cy="694.50" r="2.5" fill="none" stroke="#0000ff" stroke-width="1.6"/>
<line x1="396.90" y1="706.90" x2="408.10" y2="706.90" stroke="#ff0000" stroke-width="1.4" stroke-dasharray="3 2.2"/>
<circle cx="402.40" cy="706.90" r="2.5" fill="#ff0000"/>
<text x="414.90" y="673.90" font-size="9.6" font-weight="bold" text-anchor="start" fill="#000" stroke="#000" stroke-width="0.3" >NCD PBS</text>
<text x="414.90" y="685.70" font-size="9.6" font-weight="bold" text-anchor="start" fill="#000" stroke="#000" stroke-width="0.3" >HFR PBS</text>
<text x="414.9" y="697.90" font-size="9.6" font-weight="bold">NCD CCl<tspan font-size="7" dy="2">4</tspan></text>
<text x="414.9" y="710.30" font-size="9.6" font-weight="bold">HFR CCl<tspan font-size="7" dy="2">4</tspan></text>
<line x1="534.20" y1="660.10" x2="534.20" y2="784.40" stroke="#000" stroke-width="2" />
<line x1="531.20" y1="783.40" x2="534.20" y2="783.40" stroke="#000" stroke-width="2" />
<text x="520.80" y="787.49" font-size="11.2" font-weight="bold" text-anchor="end" fill="#000" stroke="#000" stroke-width="0.3" >0</text>
<line x1="531.20" y1="742.46" x2="534.20" y2="742.46" stroke="#000" stroke-width="2" />
<text x="520.80" y="746.55" font-size="11.2" font-weight="bold" text-anchor="end" fill="#000" stroke="#000" stroke-width="0.3" >50000</text>
<line x1="531.20" y1="701.53" x2="534.20" y2="701.53" stroke="#000" stroke-width="2" />
<text x="520.80" y="705.62" font-size="11.2" font-weight="bold" text-anchor="end" fill="#000" stroke="#000" stroke-width="0.3" >100000</text>
<line x1="531.20" y1="660.60" x2="534.20" y2="660.60" stroke="#000" stroke-width="2" />
<text x="520.80" y="664.68" font-size="11.2" font-weight="bold" text-anchor="end" fill="#000" stroke="#000" stroke-width="0.3" >150000</text>
<line x1="533.20" y1="783.40" x2="658.30" y2="783.40" stroke="#000" stroke-width="2" />
<line x1="565.40" y1="783.60" x2="565.40" y2="787.10" stroke="#000" stroke-width="2" />
<line x1="626.40" y1="783.60" x2="626.40" y2="787.10" stroke="#000" stroke-width="2" />
<text x="565.40" y="797.70" font-size="10.5" font-weight="bold" text-anchor="middle" fill="#000" stroke="#000" stroke-width="0.3" >PBS</text>
<text x="626.8" y="798.2" font-size="10.5" font-weight="bold" text-anchor="middle">CCl<tspan font-size="8" font-weight="normal">4</tspan></text>
<path d="M546.10 783.40 V740.60 H561.70 V783.40" fill="none" stroke="#0000ff" stroke-width="2"/>
<path d="M569.20 783.40 V740.00 H584.60 V783.40" fill="none" stroke="#ff0000" stroke-width="2"/>
<path d="M607.90 783.40 V716.00 H622.90 V783.40" fill="none" stroke="#0000ff" stroke-width="2"/>
<path d="M630.40 783.40 V701.40 H646.00 V783.40" fill="none" stroke="#ff0000" stroke-width="2"/>
<line x1="554.10" y1="736.50" x2="554.10" y2="742.50" stroke="#0000ff" stroke-width="1.6" />
<line x1="550.10" y1="736.50" x2="558.10" y2="736.50" stroke="#0000ff" stroke-width="1.6" />
<line x1="550.10" y1="742.50" x2="558.10" y2="742.50" stroke="#0000ff" stroke-width="1.6" />
<line x1="577.20" y1="736.40" x2="577.20" y2="745.00" stroke="#ff0000" stroke-width="1.6" />
<line x1="573.20" y1="736.40" x2="581.20" y2="736.40" stroke="#ff0000" stroke-width="1.6" />
<line x1="573.20" y1="745.00" x2="581.20" y2="745.00" stroke="#ff0000" stroke-width="1.6" />
<line x1="615.60" y1="712.40" x2="615.60" y2="718.20" stroke="#0000ff" stroke-width="1.6" />
<line x1="611.60" y1="712.40" x2="619.60" y2="712.40" stroke="#0000ff" stroke-width="1.6" />
<line x1="611.60" y1="718.20" x2="619.60" y2="718.20" stroke="#0000ff" stroke-width="1.6" />
<line x1="638.70" y1="698.30" x2="638.70" y2="704.30" stroke="#ff0000" stroke-width="1.6" />
<line x1="634.70" y1="698.30" x2="642.70" y2="698.30" stroke="#ff0000" stroke-width="1.6" />
<line x1="634.70" y1="704.30" x2="642.70" y2="704.30" stroke="#ff0000" stroke-width="1.6" />
<circle cx="554.00" cy="733.90" r="2.3" fill="none" stroke="#0000ff" stroke-width="1.5"/>
<circle cx="549.30" cy="739.60" r="2.3" fill="none" stroke="#0000ff" stroke-width="1.5"/>
<circle cx="558.90" cy="739.60" r="2.3" fill="none" stroke="#0000ff" stroke-width="1.5"/>
<circle cx="551.50" cy="741.00" r="2.3" fill="none" stroke="#0000ff" stroke-width="1.5"/>
<circle cx="556.50" cy="741.00" r="2.3" fill="none" stroke="#0000ff" stroke-width="1.5"/>
<circle cx="554.00" cy="748.20" r="2.3" fill="none" stroke="#0000ff" stroke-width="1.5"/>
<circle cx="611.00" cy="710.70" r="2.3" fill="none" stroke="#0000ff" stroke-width="1.5"/>
<circle cx="620.00" cy="708.60" r="2.3" fill="none" stroke="#0000ff" stroke-width="1.5"/>
<circle cx="615.70" cy="713.90" r="2.3" fill="none" stroke="#0000ff" stroke-width="1.5"/>
<circle cx="621.70" cy="715.40" r="2.3" fill="none" stroke="#0000ff" stroke-width="1.5"/>
<circle cx="610.40" cy="717.10" r="2.3" fill="none" stroke="#0000ff" stroke-width="1.5"/>
<circle cx="616.10" cy="719.30" r="2.3" fill="none" stroke="#0000ff" stroke-width="1.5"/>
<circle cx="621.10" cy="720.40" r="2.3" fill="none" stroke="#0000ff" stroke-width="1.5"/>
<circle cx="615.30" cy="722.50" r="2.3" fill="none" stroke="#0000ff" stroke-width="1.5"/>
<circle cx="577.10" cy="729.60" r="2.4" fill="#ff0000"/>
<circle cx="572.90" cy="737.50" r="2.4" fill="#ff0000"/>
<circle cx="581.40" cy="738.10" r="2.4" fill="#ff0000"/>
<circle cx="577.00" cy="745.00" r="2.4" fill="#ff0000"/>
<circle cx="576.70" cy="753.60" r="2.4" fill="#ff0000"/>
<circle cx="638.20" cy="691.00" r="2.4" fill="#ff0000"/>
<circle cx="635.00" cy="697.50" r="2.4" fill="#ff0000"/>
<circle cx="640.50" cy="697.50" r="2.4" fill="#ff0000"/>
<circle cx="633.50" cy="701.50" r="2.4" fill="#ff0000"/>
<circle cx="638.50" cy="700.50" r="2.4" fill="#ff0000"/>
<circle cx="643.00" cy="701.50" r="2.4" fill="#ff0000"/>
<circle cx="635.50" cy="703.50" r="2.4" fill="#ff0000"/>
<circle cx="641.00" cy="704.50" r="2.4" fill="#ff0000"/>
<line x1="552.50" y1="725.70" x2="573.90" y2="725.70" stroke="#000" stroke-width="1.5" />
<text x="563.2" y="722.5" font-size="8.6" text-anchor="middle" fill="#333">n.s.</text>
<line x1="552.50" y1="703.60" x2="614.60" y2="703.60" stroke="#000" stroke-width="1.5" />
<text x="587.40" y="700.00" font-size="8.6" text-anchor="middle" fill="#222" stroke="#222" stroke-width="0.15"><tspan font-style="italic">P</tspan>=2.100E-5</text>
<line x1="615.70" y1="686.70" x2="637.10" y2="686.70" stroke="#000" stroke-width="1.5" />
<text x="623.20" y="682.90" font-size="8.6" text-anchor="middle" fill="#222" stroke="#222" stroke-width="0.15"><tspan font-style="italic">P</tspan>=0.0007</text>
<line x1="575.40" y1="672.80" x2="638.20" y2="672.80" stroke="#000" stroke-width="1.5" />
<text x="603.40" y="670.00" font-size="8.6" text-anchor="middle" fill="#222" stroke="#222" stroke-width="0.15"><tspan font-style="italic">P</tspan>=8.389E-5</text>
<circle cx="544.60" cy="645.40" r="2.3" fill="none" stroke="#0000ff" stroke-width="1.5"/>
<text x="556.80" y="649.20" font-size="10" font-weight="bold" text-anchor="start" fill="#000" stroke="#000" stroke-width="0.3" >NCD</text>
<circle cx="544.60" cy="656.70" r="2.4" fill="#ff0000"/>
<text x="556.80" y="660.50" font-size="10" font-weight="bold" text-anchor="start" fill="#000" stroke="#000" stroke-width="0.3" >HFR</text>
<text x="479.20" y="718.50" font-size="11.2" font-weight="bold" text-anchor="middle" fill="#000" transform="rotate(-90 479.20 718.50)" stroke="#000" stroke-width="0.3" >Area under curve (a.u.)</text>
</g></svg></body></html>
